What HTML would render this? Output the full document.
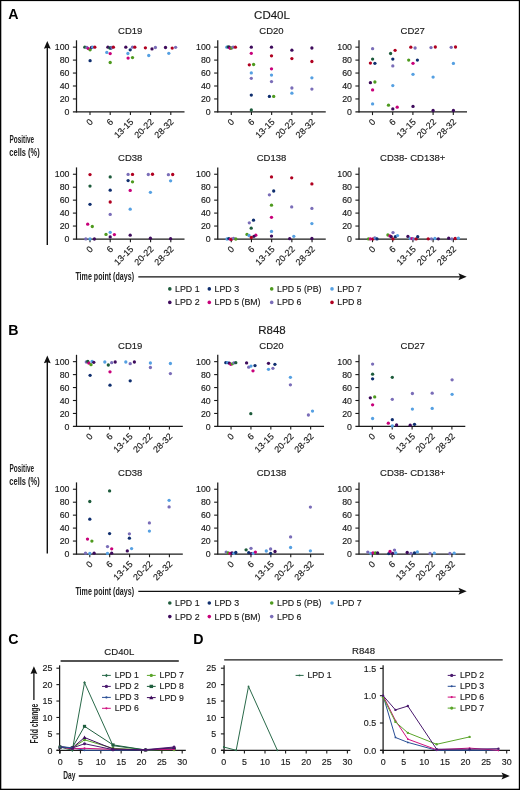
<!DOCTYPE html>
<html><head><meta charset="utf-8"><title>Figure</title>
<style>
html,body{margin:0;padding:0;background:#fff;}
body{width:520px;height:790px;overflow:hidden;}
svg{display:block;font-family:"Liberation Sans", sans-serif;will-change:transform;}
</style></head><body>
<svg width="520" height="790" viewBox="0 0 520 790">
<rect x="0" y="0" width="520" height="790" fill="#fff"/>
<rect x="0" y="0" width="520" height="1.1" fill="#000"/>
<rect x="0" y="0" width="1.3" height="790" fill="#000"/>
<rect x="518.8" y="0" width="1.2" height="790" fill="#000"/>
<rect x="0" y="788.7" width="520" height="1.3" fill="#000"/>
<text x="8.30" y="18.50" font-size="14.2" font-weight="bold" fill="#000">A</text>
<text x="272.00" y="19.20" font-size="11.5" text-anchor="middle" fill="#1a1a1a" stroke="#1a1a1a" stroke-width="0.15">CD40L</text>
<text x="130.20" y="34.20" font-size="9.5" text-anchor="middle" fill="#1a1a1a" stroke="#1a1a1a" stroke-width="0.15">CD19</text>
<line x1="76.50" y1="40.30" x2="76.50" y2="112.50" stroke="#1a1a1a" stroke-width="1.25"/>
<line x1="72.90" y1="111.90" x2="184.50" y2="111.90" stroke="#1a1a1a" stroke-width="1.25"/>
<line x1="72.90" y1="47.15" x2="76.50" y2="47.15" stroke="#1a1a1a" stroke-width="1.1"/>
<line x1="72.90" y1="60.10" x2="76.50" y2="60.10" stroke="#1a1a1a" stroke-width="1.1"/>
<line x1="72.90" y1="73.05" x2="76.50" y2="73.05" stroke="#1a1a1a" stroke-width="1.1"/>
<line x1="72.90" y1="86.00" x2="76.50" y2="86.00" stroke="#1a1a1a" stroke-width="1.1"/>
<line x1="72.90" y1="98.95" x2="76.50" y2="98.95" stroke="#1a1a1a" stroke-width="1.1"/>
<text x="69.50" y="50.25" font-size="8.8" text-anchor="end" fill="#1a1a1a" stroke="#1a1a1a" stroke-width="0.15">100</text>
<text x="69.50" y="63.20" font-size="8.8" text-anchor="end" fill="#1a1a1a" stroke="#1a1a1a" stroke-width="0.15">80</text>
<text x="69.50" y="76.15" font-size="8.8" text-anchor="end" fill="#1a1a1a" stroke="#1a1a1a" stroke-width="0.15">60</text>
<text x="69.50" y="89.10" font-size="8.8" text-anchor="end" fill="#1a1a1a" stroke="#1a1a1a" stroke-width="0.15">40</text>
<text x="69.50" y="102.05" font-size="8.8" text-anchor="end" fill="#1a1a1a" stroke="#1a1a1a" stroke-width="0.15">20</text>
<text x="69.50" y="115.00" font-size="8.8" text-anchor="end" fill="#1a1a1a" stroke="#1a1a1a" stroke-width="0.15">0</text>
<line x1="90.00" y1="111.90" x2="90.00" y2="115.10" stroke="#1a1a1a" stroke-width="1.1"/>
<text font-size="9" text-anchor="end" fill="#1a1a1a" stroke="#1a1a1a" stroke-width="0.15" transform="translate(93.60,122.50) rotate(-45)">0</text>
<line x1="110.20" y1="111.90" x2="110.20" y2="115.10" stroke="#1a1a1a" stroke-width="1.1"/>
<text font-size="9" text-anchor="end" fill="#1a1a1a" stroke="#1a1a1a" stroke-width="0.15" transform="translate(113.80,122.50) rotate(-45)">6</text>
<line x1="130.40" y1="111.90" x2="130.40" y2="115.10" stroke="#1a1a1a" stroke-width="1.1"/>
<text font-size="9" text-anchor="end" fill="#1a1a1a" stroke="#1a1a1a" stroke-width="0.15" transform="translate(134.00,122.50) rotate(-45)">13-15</text>
<line x1="150.60" y1="111.90" x2="150.60" y2="115.10" stroke="#1a1a1a" stroke-width="1.1"/>
<text font-size="9" text-anchor="end" fill="#1a1a1a" stroke="#1a1a1a" stroke-width="0.15" transform="translate(154.20,122.50) rotate(-45)">20-22</text>
<line x1="170.80" y1="111.90" x2="170.80" y2="115.10" stroke="#1a1a1a" stroke-width="1.1"/>
<text font-size="9" text-anchor="end" fill="#1a1a1a" stroke="#1a1a1a" stroke-width="0.15" transform="translate(174.40,122.50) rotate(-45)">28-32</text>
<text x="271.45" y="34.20" font-size="9.5" text-anchor="middle" fill="#1a1a1a" stroke="#1a1a1a" stroke-width="0.15">CD20</text>
<line x1="217.75" y1="40.30" x2="217.75" y2="112.50" stroke="#1a1a1a" stroke-width="1.25"/>
<line x1="214.15" y1="111.90" x2="325.75" y2="111.90" stroke="#1a1a1a" stroke-width="1.25"/>
<line x1="214.15" y1="47.15" x2="217.75" y2="47.15" stroke="#1a1a1a" stroke-width="1.1"/>
<line x1="214.15" y1="60.10" x2="217.75" y2="60.10" stroke="#1a1a1a" stroke-width="1.1"/>
<line x1="214.15" y1="73.05" x2="217.75" y2="73.05" stroke="#1a1a1a" stroke-width="1.1"/>
<line x1="214.15" y1="86.00" x2="217.75" y2="86.00" stroke="#1a1a1a" stroke-width="1.1"/>
<line x1="214.15" y1="98.95" x2="217.75" y2="98.95" stroke="#1a1a1a" stroke-width="1.1"/>
<text x="210.75" y="50.25" font-size="8.8" text-anchor="end" fill="#1a1a1a" stroke="#1a1a1a" stroke-width="0.15">100</text>
<text x="210.75" y="63.20" font-size="8.8" text-anchor="end" fill="#1a1a1a" stroke="#1a1a1a" stroke-width="0.15">80</text>
<text x="210.75" y="76.15" font-size="8.8" text-anchor="end" fill="#1a1a1a" stroke="#1a1a1a" stroke-width="0.15">60</text>
<text x="210.75" y="89.10" font-size="8.8" text-anchor="end" fill="#1a1a1a" stroke="#1a1a1a" stroke-width="0.15">40</text>
<text x="210.75" y="102.05" font-size="8.8" text-anchor="end" fill="#1a1a1a" stroke="#1a1a1a" stroke-width="0.15">20</text>
<text x="210.75" y="115.00" font-size="8.8" text-anchor="end" fill="#1a1a1a" stroke="#1a1a1a" stroke-width="0.15">0</text>
<line x1="231.25" y1="111.90" x2="231.25" y2="115.10" stroke="#1a1a1a" stroke-width="1.1"/>
<text font-size="9" text-anchor="end" fill="#1a1a1a" stroke="#1a1a1a" stroke-width="0.15" transform="translate(234.85,122.50) rotate(-45)">0</text>
<line x1="251.45" y1="111.90" x2="251.45" y2="115.10" stroke="#1a1a1a" stroke-width="1.1"/>
<text font-size="9" text-anchor="end" fill="#1a1a1a" stroke="#1a1a1a" stroke-width="0.15" transform="translate(255.05,122.50) rotate(-45)">6</text>
<line x1="271.65" y1="111.90" x2="271.65" y2="115.10" stroke="#1a1a1a" stroke-width="1.1"/>
<text font-size="9" text-anchor="end" fill="#1a1a1a" stroke="#1a1a1a" stroke-width="0.15" transform="translate(275.25,122.50) rotate(-45)">13-15</text>
<line x1="291.85" y1="111.90" x2="291.85" y2="115.10" stroke="#1a1a1a" stroke-width="1.1"/>
<text font-size="9" text-anchor="end" fill="#1a1a1a" stroke="#1a1a1a" stroke-width="0.15" transform="translate(295.45,122.50) rotate(-45)">20-22</text>
<line x1="312.05" y1="111.90" x2="312.05" y2="115.10" stroke="#1a1a1a" stroke-width="1.1"/>
<text font-size="9" text-anchor="end" fill="#1a1a1a" stroke="#1a1a1a" stroke-width="0.15" transform="translate(315.65,122.50) rotate(-45)">28-32</text>
<text x="412.70" y="34.20" font-size="9.5" text-anchor="middle" fill="#1a1a1a" stroke="#1a1a1a" stroke-width="0.15">CD27</text>
<line x1="359.00" y1="40.30" x2="359.00" y2="112.50" stroke="#1a1a1a" stroke-width="1.25"/>
<line x1="355.40" y1="111.90" x2="467.00" y2="111.90" stroke="#1a1a1a" stroke-width="1.25"/>
<line x1="355.40" y1="47.15" x2="359.00" y2="47.15" stroke="#1a1a1a" stroke-width="1.1"/>
<line x1="355.40" y1="60.10" x2="359.00" y2="60.10" stroke="#1a1a1a" stroke-width="1.1"/>
<line x1="355.40" y1="73.05" x2="359.00" y2="73.05" stroke="#1a1a1a" stroke-width="1.1"/>
<line x1="355.40" y1="86.00" x2="359.00" y2="86.00" stroke="#1a1a1a" stroke-width="1.1"/>
<line x1="355.40" y1="98.95" x2="359.00" y2="98.95" stroke="#1a1a1a" stroke-width="1.1"/>
<text x="352.00" y="50.25" font-size="8.8" text-anchor="end" fill="#1a1a1a" stroke="#1a1a1a" stroke-width="0.15">100</text>
<text x="352.00" y="63.20" font-size="8.8" text-anchor="end" fill="#1a1a1a" stroke="#1a1a1a" stroke-width="0.15">80</text>
<text x="352.00" y="76.15" font-size="8.8" text-anchor="end" fill="#1a1a1a" stroke="#1a1a1a" stroke-width="0.15">60</text>
<text x="352.00" y="89.10" font-size="8.8" text-anchor="end" fill="#1a1a1a" stroke="#1a1a1a" stroke-width="0.15">40</text>
<text x="352.00" y="102.05" font-size="8.8" text-anchor="end" fill="#1a1a1a" stroke="#1a1a1a" stroke-width="0.15">20</text>
<text x="352.00" y="115.00" font-size="8.8" text-anchor="end" fill="#1a1a1a" stroke="#1a1a1a" stroke-width="0.15">0</text>
<line x1="372.50" y1="111.90" x2="372.50" y2="115.10" stroke="#1a1a1a" stroke-width="1.1"/>
<text font-size="9" text-anchor="end" fill="#1a1a1a" stroke="#1a1a1a" stroke-width="0.15" transform="translate(376.10,122.50) rotate(-45)">0</text>
<line x1="392.70" y1="111.90" x2="392.70" y2="115.10" stroke="#1a1a1a" stroke-width="1.1"/>
<text font-size="9" text-anchor="end" fill="#1a1a1a" stroke="#1a1a1a" stroke-width="0.15" transform="translate(396.30,122.50) rotate(-45)">6</text>
<line x1="412.90" y1="111.90" x2="412.90" y2="115.10" stroke="#1a1a1a" stroke-width="1.1"/>
<text font-size="9" text-anchor="end" fill="#1a1a1a" stroke="#1a1a1a" stroke-width="0.15" transform="translate(416.50,122.50) rotate(-45)">13-15</text>
<line x1="433.10" y1="111.90" x2="433.10" y2="115.10" stroke="#1a1a1a" stroke-width="1.1"/>
<text font-size="9" text-anchor="end" fill="#1a1a1a" stroke="#1a1a1a" stroke-width="0.15" transform="translate(436.70,122.50) rotate(-45)">20-22</text>
<line x1="453.30" y1="111.90" x2="453.30" y2="115.10" stroke="#1a1a1a" stroke-width="1.1"/>
<text font-size="9" text-anchor="end" fill="#1a1a1a" stroke="#1a1a1a" stroke-width="0.15" transform="translate(456.90,122.50) rotate(-45)">28-32</text>
<text x="130.20" y="161.30" font-size="9.5" text-anchor="middle" fill="#1a1a1a" stroke="#1a1a1a" stroke-width="0.15">CD38</text>
<line x1="76.50" y1="167.40" x2="76.50" y2="239.60" stroke="#1a1a1a" stroke-width="1.25"/>
<line x1="72.90" y1="239.00" x2="184.50" y2="239.00" stroke="#1a1a1a" stroke-width="1.25"/>
<line x1="72.90" y1="174.25" x2="76.50" y2="174.25" stroke="#1a1a1a" stroke-width="1.1"/>
<line x1="72.90" y1="187.20" x2="76.50" y2="187.20" stroke="#1a1a1a" stroke-width="1.1"/>
<line x1="72.90" y1="200.15" x2="76.50" y2="200.15" stroke="#1a1a1a" stroke-width="1.1"/>
<line x1="72.90" y1="213.10" x2="76.50" y2="213.10" stroke="#1a1a1a" stroke-width="1.1"/>
<line x1="72.90" y1="226.05" x2="76.50" y2="226.05" stroke="#1a1a1a" stroke-width="1.1"/>
<text x="69.50" y="177.35" font-size="8.8" text-anchor="end" fill="#1a1a1a" stroke="#1a1a1a" stroke-width="0.15">100</text>
<text x="69.50" y="190.30" font-size="8.8" text-anchor="end" fill="#1a1a1a" stroke="#1a1a1a" stroke-width="0.15">80</text>
<text x="69.50" y="203.25" font-size="8.8" text-anchor="end" fill="#1a1a1a" stroke="#1a1a1a" stroke-width="0.15">60</text>
<text x="69.50" y="216.20" font-size="8.8" text-anchor="end" fill="#1a1a1a" stroke="#1a1a1a" stroke-width="0.15">40</text>
<text x="69.50" y="229.15" font-size="8.8" text-anchor="end" fill="#1a1a1a" stroke="#1a1a1a" stroke-width="0.15">20</text>
<text x="69.50" y="242.10" font-size="8.8" text-anchor="end" fill="#1a1a1a" stroke="#1a1a1a" stroke-width="0.15">0</text>
<line x1="90.00" y1="239.00" x2="90.00" y2="242.20" stroke="#1a1a1a" stroke-width="1.1"/>
<text font-size="9" text-anchor="end" fill="#1a1a1a" stroke="#1a1a1a" stroke-width="0.15" transform="translate(93.60,249.60) rotate(-45)">0</text>
<line x1="110.20" y1="239.00" x2="110.20" y2="242.20" stroke="#1a1a1a" stroke-width="1.1"/>
<text font-size="9" text-anchor="end" fill="#1a1a1a" stroke="#1a1a1a" stroke-width="0.15" transform="translate(113.80,249.60) rotate(-45)">6</text>
<line x1="130.40" y1="239.00" x2="130.40" y2="242.20" stroke="#1a1a1a" stroke-width="1.1"/>
<text font-size="9" text-anchor="end" fill="#1a1a1a" stroke="#1a1a1a" stroke-width="0.15" transform="translate(134.00,249.60) rotate(-45)">13-15</text>
<line x1="150.60" y1="239.00" x2="150.60" y2="242.20" stroke="#1a1a1a" stroke-width="1.1"/>
<text font-size="9" text-anchor="end" fill="#1a1a1a" stroke="#1a1a1a" stroke-width="0.15" transform="translate(154.20,249.60) rotate(-45)">20-22</text>
<line x1="170.80" y1="239.00" x2="170.80" y2="242.20" stroke="#1a1a1a" stroke-width="1.1"/>
<text font-size="9" text-anchor="end" fill="#1a1a1a" stroke="#1a1a1a" stroke-width="0.15" transform="translate(174.40,249.60) rotate(-45)">28-32</text>
<text x="271.45" y="161.30" font-size="9.5" text-anchor="middle" fill="#1a1a1a" stroke="#1a1a1a" stroke-width="0.15">CD138</text>
<line x1="217.75" y1="167.40" x2="217.75" y2="239.60" stroke="#1a1a1a" stroke-width="1.25"/>
<line x1="214.15" y1="239.00" x2="325.75" y2="239.00" stroke="#1a1a1a" stroke-width="1.25"/>
<line x1="214.15" y1="174.25" x2="217.75" y2="174.25" stroke="#1a1a1a" stroke-width="1.1"/>
<line x1="214.15" y1="187.20" x2="217.75" y2="187.20" stroke="#1a1a1a" stroke-width="1.1"/>
<line x1="214.15" y1="200.15" x2="217.75" y2="200.15" stroke="#1a1a1a" stroke-width="1.1"/>
<line x1="214.15" y1="213.10" x2="217.75" y2="213.10" stroke="#1a1a1a" stroke-width="1.1"/>
<line x1="214.15" y1="226.05" x2="217.75" y2="226.05" stroke="#1a1a1a" stroke-width="1.1"/>
<text x="210.75" y="177.35" font-size="8.8" text-anchor="end" fill="#1a1a1a" stroke="#1a1a1a" stroke-width="0.15">100</text>
<text x="210.75" y="190.30" font-size="8.8" text-anchor="end" fill="#1a1a1a" stroke="#1a1a1a" stroke-width="0.15">80</text>
<text x="210.75" y="203.25" font-size="8.8" text-anchor="end" fill="#1a1a1a" stroke="#1a1a1a" stroke-width="0.15">60</text>
<text x="210.75" y="216.20" font-size="8.8" text-anchor="end" fill="#1a1a1a" stroke="#1a1a1a" stroke-width="0.15">40</text>
<text x="210.75" y="229.15" font-size="8.8" text-anchor="end" fill="#1a1a1a" stroke="#1a1a1a" stroke-width="0.15">20</text>
<text x="210.75" y="242.10" font-size="8.8" text-anchor="end" fill="#1a1a1a" stroke="#1a1a1a" stroke-width="0.15">0</text>
<line x1="231.25" y1="239.00" x2="231.25" y2="242.20" stroke="#1a1a1a" stroke-width="1.1"/>
<text font-size="9" text-anchor="end" fill="#1a1a1a" stroke="#1a1a1a" stroke-width="0.15" transform="translate(234.85,249.60) rotate(-45)">0</text>
<line x1="251.45" y1="239.00" x2="251.45" y2="242.20" stroke="#1a1a1a" stroke-width="1.1"/>
<text font-size="9" text-anchor="end" fill="#1a1a1a" stroke="#1a1a1a" stroke-width="0.15" transform="translate(255.05,249.60) rotate(-45)">6</text>
<line x1="271.65" y1="239.00" x2="271.65" y2="242.20" stroke="#1a1a1a" stroke-width="1.1"/>
<text font-size="9" text-anchor="end" fill="#1a1a1a" stroke="#1a1a1a" stroke-width="0.15" transform="translate(275.25,249.60) rotate(-45)">13-15</text>
<line x1="291.85" y1="239.00" x2="291.85" y2="242.20" stroke="#1a1a1a" stroke-width="1.1"/>
<text font-size="9" text-anchor="end" fill="#1a1a1a" stroke="#1a1a1a" stroke-width="0.15" transform="translate(295.45,249.60) rotate(-45)">20-22</text>
<line x1="312.05" y1="239.00" x2="312.05" y2="242.20" stroke="#1a1a1a" stroke-width="1.1"/>
<text font-size="9" text-anchor="end" fill="#1a1a1a" stroke="#1a1a1a" stroke-width="0.15" transform="translate(315.65,249.60) rotate(-45)">28-32</text>
<text x="412.70" y="161.30" font-size="9.5" text-anchor="middle" fill="#1a1a1a" stroke="#1a1a1a" stroke-width="0.15">CD38- CD138+</text>
<line x1="359.00" y1="167.40" x2="359.00" y2="239.60" stroke="#1a1a1a" stroke-width="1.25"/>
<line x1="355.40" y1="239.00" x2="467.00" y2="239.00" stroke="#1a1a1a" stroke-width="1.25"/>
<line x1="355.40" y1="174.25" x2="359.00" y2="174.25" stroke="#1a1a1a" stroke-width="1.1"/>
<line x1="355.40" y1="187.20" x2="359.00" y2="187.20" stroke="#1a1a1a" stroke-width="1.1"/>
<line x1="355.40" y1="200.15" x2="359.00" y2="200.15" stroke="#1a1a1a" stroke-width="1.1"/>
<line x1="355.40" y1="213.10" x2="359.00" y2="213.10" stroke="#1a1a1a" stroke-width="1.1"/>
<line x1="355.40" y1="226.05" x2="359.00" y2="226.05" stroke="#1a1a1a" stroke-width="1.1"/>
<text x="352.00" y="177.35" font-size="8.8" text-anchor="end" fill="#1a1a1a" stroke="#1a1a1a" stroke-width="0.15">100</text>
<text x="352.00" y="190.30" font-size="8.8" text-anchor="end" fill="#1a1a1a" stroke="#1a1a1a" stroke-width="0.15">80</text>
<text x="352.00" y="203.25" font-size="8.8" text-anchor="end" fill="#1a1a1a" stroke="#1a1a1a" stroke-width="0.15">60</text>
<text x="352.00" y="216.20" font-size="8.8" text-anchor="end" fill="#1a1a1a" stroke="#1a1a1a" stroke-width="0.15">40</text>
<text x="352.00" y="229.15" font-size="8.8" text-anchor="end" fill="#1a1a1a" stroke="#1a1a1a" stroke-width="0.15">20</text>
<text x="352.00" y="242.10" font-size="8.8" text-anchor="end" fill="#1a1a1a" stroke="#1a1a1a" stroke-width="0.15">0</text>
<line x1="372.50" y1="239.00" x2="372.50" y2="242.20" stroke="#1a1a1a" stroke-width="1.1"/>
<text font-size="9" text-anchor="end" fill="#1a1a1a" stroke="#1a1a1a" stroke-width="0.15" transform="translate(376.10,249.60) rotate(-45)">0</text>
<line x1="392.70" y1="239.00" x2="392.70" y2="242.20" stroke="#1a1a1a" stroke-width="1.1"/>
<text font-size="9" text-anchor="end" fill="#1a1a1a" stroke="#1a1a1a" stroke-width="0.15" transform="translate(396.30,249.60) rotate(-45)">6</text>
<line x1="412.90" y1="239.00" x2="412.90" y2="242.20" stroke="#1a1a1a" stroke-width="1.1"/>
<text font-size="9" text-anchor="end" fill="#1a1a1a" stroke="#1a1a1a" stroke-width="0.15" transform="translate(416.50,249.60) rotate(-45)">13-15</text>
<line x1="433.10" y1="239.00" x2="433.10" y2="242.20" stroke="#1a1a1a" stroke-width="1.1"/>
<text font-size="9" text-anchor="end" fill="#1a1a1a" stroke="#1a1a1a" stroke-width="0.15" transform="translate(436.70,249.60) rotate(-45)">20-22</text>
<line x1="453.30" y1="239.00" x2="453.30" y2="242.20" stroke="#1a1a1a" stroke-width="1.1"/>
<text font-size="9" text-anchor="end" fill="#1a1a1a" stroke="#1a1a1a" stroke-width="0.15" transform="translate(456.90,249.60) rotate(-45)">28-32</text>
<line x1="47.30" y1="46.90" x2="47.30" y2="244.90" stroke="#111" stroke-width="1.4"/>
<polygon points="47.30,40.90 43.90,48.70 47.30,47.70 50.70,48.70" fill="#111"/>
<text x="9.50" y="143.30" font-size="10.2" font-weight="bold" textLength="24.6" lengthAdjust="spacingAndGlyphs" fill="#222">Positive</text>
<text x="9.30" y="155.60" font-size="10.2" font-weight="bold" textLength="30.4" lengthAdjust="spacingAndGlyphs" fill="#222">cells (%)</text>
<text x="75.40" y="280.00" font-size="10.2" font-weight="bold" textLength="58.6" lengthAdjust="spacingAndGlyphs" fill="#222">Time point (days)</text>
<line x1="138.30" y1="276.80" x2="460.70" y2="276.80" stroke="#111" stroke-width="1.3"/>
<polygon points="466.70,276.80 458.40,273.30 460.10,276.80 458.40,280.30" fill="#111"/>
<text x="8.30" y="334.50" font-size="14.2" font-weight="bold" fill="#000">B</text>
<text x="272.00" y="333.70" font-size="11.5" text-anchor="middle" fill="#1a1a1a" stroke="#1a1a1a" stroke-width="0.15">R848</text>
<text x="130.20" y="348.70" font-size="9.5" text-anchor="middle" fill="#1a1a1a" stroke="#1a1a1a" stroke-width="0.15">CD19</text>
<line x1="76.50" y1="354.80" x2="76.50" y2="427.00" stroke="#1a1a1a" stroke-width="1.25"/>
<line x1="72.90" y1="426.40" x2="182.80" y2="426.40" stroke="#1a1a1a" stroke-width="1.25"/>
<line x1="72.90" y1="361.65" x2="76.50" y2="361.65" stroke="#1a1a1a" stroke-width="1.1"/>
<line x1="72.90" y1="374.60" x2="76.50" y2="374.60" stroke="#1a1a1a" stroke-width="1.1"/>
<line x1="72.90" y1="387.55" x2="76.50" y2="387.55" stroke="#1a1a1a" stroke-width="1.1"/>
<line x1="72.90" y1="400.50" x2="76.50" y2="400.50" stroke="#1a1a1a" stroke-width="1.1"/>
<line x1="72.90" y1="413.45" x2="76.50" y2="413.45" stroke="#1a1a1a" stroke-width="1.1"/>
<text x="69.50" y="364.75" font-size="8.8" text-anchor="end" fill="#1a1a1a" stroke="#1a1a1a" stroke-width="0.15">100</text>
<text x="69.50" y="377.70" font-size="8.8" text-anchor="end" fill="#1a1a1a" stroke="#1a1a1a" stroke-width="0.15">80</text>
<text x="69.50" y="390.65" font-size="8.8" text-anchor="end" fill="#1a1a1a" stroke="#1a1a1a" stroke-width="0.15">60</text>
<text x="69.50" y="403.60" font-size="8.8" text-anchor="end" fill="#1a1a1a" stroke="#1a1a1a" stroke-width="0.15">40</text>
<text x="69.50" y="416.55" font-size="8.8" text-anchor="end" fill="#1a1a1a" stroke="#1a1a1a" stroke-width="0.15">20</text>
<text x="69.50" y="429.50" font-size="8.8" text-anchor="end" fill="#1a1a1a" stroke="#1a1a1a" stroke-width="0.15">0</text>
<line x1="89.80" y1="426.40" x2="89.80" y2="429.60" stroke="#1a1a1a" stroke-width="1.1"/>
<text font-size="9" text-anchor="end" fill="#1a1a1a" stroke="#1a1a1a" stroke-width="0.15" transform="translate(93.40,437.00) rotate(-45)">0</text>
<line x1="109.70" y1="426.40" x2="109.70" y2="429.60" stroke="#1a1a1a" stroke-width="1.1"/>
<text font-size="9" text-anchor="end" fill="#1a1a1a" stroke="#1a1a1a" stroke-width="0.15" transform="translate(113.30,437.00) rotate(-45)">6</text>
<line x1="129.60" y1="426.40" x2="129.60" y2="429.60" stroke="#1a1a1a" stroke-width="1.1"/>
<text font-size="9" text-anchor="end" fill="#1a1a1a" stroke="#1a1a1a" stroke-width="0.15" transform="translate(133.20,437.00) rotate(-45)">13-15</text>
<line x1="149.50" y1="426.40" x2="149.50" y2="429.60" stroke="#1a1a1a" stroke-width="1.1"/>
<text font-size="9" text-anchor="end" fill="#1a1a1a" stroke="#1a1a1a" stroke-width="0.15" transform="translate(153.10,437.00) rotate(-45)">20-22</text>
<line x1="169.40" y1="426.40" x2="169.40" y2="429.60" stroke="#1a1a1a" stroke-width="1.1"/>
<text font-size="9" text-anchor="end" fill="#1a1a1a" stroke="#1a1a1a" stroke-width="0.15" transform="translate(173.00,437.00) rotate(-45)">28-32</text>
<text x="271.45" y="348.70" font-size="9.5" text-anchor="middle" fill="#1a1a1a" stroke="#1a1a1a" stroke-width="0.15">CD20</text>
<line x1="217.75" y1="354.80" x2="217.75" y2="427.00" stroke="#1a1a1a" stroke-width="1.25"/>
<line x1="214.15" y1="426.40" x2="324.05" y2="426.40" stroke="#1a1a1a" stroke-width="1.25"/>
<line x1="214.15" y1="361.65" x2="217.75" y2="361.65" stroke="#1a1a1a" stroke-width="1.1"/>
<line x1="214.15" y1="374.60" x2="217.75" y2="374.60" stroke="#1a1a1a" stroke-width="1.1"/>
<line x1="214.15" y1="387.55" x2="217.75" y2="387.55" stroke="#1a1a1a" stroke-width="1.1"/>
<line x1="214.15" y1="400.50" x2="217.75" y2="400.50" stroke="#1a1a1a" stroke-width="1.1"/>
<line x1="214.15" y1="413.45" x2="217.75" y2="413.45" stroke="#1a1a1a" stroke-width="1.1"/>
<text x="210.75" y="364.75" font-size="8.8" text-anchor="end" fill="#1a1a1a" stroke="#1a1a1a" stroke-width="0.15">100</text>
<text x="210.75" y="377.70" font-size="8.8" text-anchor="end" fill="#1a1a1a" stroke="#1a1a1a" stroke-width="0.15">80</text>
<text x="210.75" y="390.65" font-size="8.8" text-anchor="end" fill="#1a1a1a" stroke="#1a1a1a" stroke-width="0.15">60</text>
<text x="210.75" y="403.60" font-size="8.8" text-anchor="end" fill="#1a1a1a" stroke="#1a1a1a" stroke-width="0.15">40</text>
<text x="210.75" y="416.55" font-size="8.8" text-anchor="end" fill="#1a1a1a" stroke="#1a1a1a" stroke-width="0.15">20</text>
<text x="210.75" y="429.50" font-size="8.8" text-anchor="end" fill="#1a1a1a" stroke="#1a1a1a" stroke-width="0.15">0</text>
<line x1="231.05" y1="426.40" x2="231.05" y2="429.60" stroke="#1a1a1a" stroke-width="1.1"/>
<text font-size="9" text-anchor="end" fill="#1a1a1a" stroke="#1a1a1a" stroke-width="0.15" transform="translate(234.65,437.00) rotate(-45)">0</text>
<line x1="250.95" y1="426.40" x2="250.95" y2="429.60" stroke="#1a1a1a" stroke-width="1.1"/>
<text font-size="9" text-anchor="end" fill="#1a1a1a" stroke="#1a1a1a" stroke-width="0.15" transform="translate(254.55,437.00) rotate(-45)">6</text>
<line x1="270.85" y1="426.40" x2="270.85" y2="429.60" stroke="#1a1a1a" stroke-width="1.1"/>
<text font-size="9" text-anchor="end" fill="#1a1a1a" stroke="#1a1a1a" stroke-width="0.15" transform="translate(274.45,437.00) rotate(-45)">13-15</text>
<line x1="290.75" y1="426.40" x2="290.75" y2="429.60" stroke="#1a1a1a" stroke-width="1.1"/>
<text font-size="9" text-anchor="end" fill="#1a1a1a" stroke="#1a1a1a" stroke-width="0.15" transform="translate(294.35,437.00) rotate(-45)">20-22</text>
<line x1="310.65" y1="426.40" x2="310.65" y2="429.60" stroke="#1a1a1a" stroke-width="1.1"/>
<text font-size="9" text-anchor="end" fill="#1a1a1a" stroke="#1a1a1a" stroke-width="0.15" transform="translate(314.25,437.00) rotate(-45)">28-32</text>
<text x="412.70" y="348.70" font-size="9.5" text-anchor="middle" fill="#1a1a1a" stroke="#1a1a1a" stroke-width="0.15">CD27</text>
<line x1="359.00" y1="354.80" x2="359.00" y2="427.00" stroke="#1a1a1a" stroke-width="1.25"/>
<line x1="355.40" y1="426.40" x2="465.30" y2="426.40" stroke="#1a1a1a" stroke-width="1.25"/>
<line x1="355.40" y1="361.65" x2="359.00" y2="361.65" stroke="#1a1a1a" stroke-width="1.1"/>
<line x1="355.40" y1="374.60" x2="359.00" y2="374.60" stroke="#1a1a1a" stroke-width="1.1"/>
<line x1="355.40" y1="387.55" x2="359.00" y2="387.55" stroke="#1a1a1a" stroke-width="1.1"/>
<line x1="355.40" y1="400.50" x2="359.00" y2="400.50" stroke="#1a1a1a" stroke-width="1.1"/>
<line x1="355.40" y1="413.45" x2="359.00" y2="413.45" stroke="#1a1a1a" stroke-width="1.1"/>
<text x="352.00" y="364.75" font-size="8.8" text-anchor="end" fill="#1a1a1a" stroke="#1a1a1a" stroke-width="0.15">100</text>
<text x="352.00" y="377.70" font-size="8.8" text-anchor="end" fill="#1a1a1a" stroke="#1a1a1a" stroke-width="0.15">80</text>
<text x="352.00" y="390.65" font-size="8.8" text-anchor="end" fill="#1a1a1a" stroke="#1a1a1a" stroke-width="0.15">60</text>
<text x="352.00" y="403.60" font-size="8.8" text-anchor="end" fill="#1a1a1a" stroke="#1a1a1a" stroke-width="0.15">40</text>
<text x="352.00" y="416.55" font-size="8.8" text-anchor="end" fill="#1a1a1a" stroke="#1a1a1a" stroke-width="0.15">20</text>
<text x="352.00" y="429.50" font-size="8.8" text-anchor="end" fill="#1a1a1a" stroke="#1a1a1a" stroke-width="0.15">0</text>
<line x1="372.30" y1="426.40" x2="372.30" y2="429.60" stroke="#1a1a1a" stroke-width="1.1"/>
<text font-size="9" text-anchor="end" fill="#1a1a1a" stroke="#1a1a1a" stroke-width="0.15" transform="translate(375.90,437.00) rotate(-45)">0</text>
<line x1="392.20" y1="426.40" x2="392.20" y2="429.60" stroke="#1a1a1a" stroke-width="1.1"/>
<text font-size="9" text-anchor="end" fill="#1a1a1a" stroke="#1a1a1a" stroke-width="0.15" transform="translate(395.80,437.00) rotate(-45)">6</text>
<line x1="412.10" y1="426.40" x2="412.10" y2="429.60" stroke="#1a1a1a" stroke-width="1.1"/>
<text font-size="9" text-anchor="end" fill="#1a1a1a" stroke="#1a1a1a" stroke-width="0.15" transform="translate(415.70,437.00) rotate(-45)">13-15</text>
<line x1="432.00" y1="426.40" x2="432.00" y2="429.60" stroke="#1a1a1a" stroke-width="1.1"/>
<text font-size="9" text-anchor="end" fill="#1a1a1a" stroke="#1a1a1a" stroke-width="0.15" transform="translate(435.60,437.00) rotate(-45)">20-22</text>
<line x1="451.90" y1="426.40" x2="451.90" y2="429.60" stroke="#1a1a1a" stroke-width="1.1"/>
<text font-size="9" text-anchor="end" fill="#1a1a1a" stroke="#1a1a1a" stroke-width="0.15" transform="translate(455.50,437.00) rotate(-45)">28-32</text>
<text x="130.20" y="476.30" font-size="9.5" text-anchor="middle" fill="#1a1a1a" stroke="#1a1a1a" stroke-width="0.15">CD38</text>
<line x1="76.50" y1="482.40" x2="76.50" y2="554.60" stroke="#1a1a1a" stroke-width="1.25"/>
<line x1="72.90" y1="554.00" x2="182.80" y2="554.00" stroke="#1a1a1a" stroke-width="1.25"/>
<line x1="72.90" y1="489.25" x2="76.50" y2="489.25" stroke="#1a1a1a" stroke-width="1.1"/>
<line x1="72.90" y1="502.20" x2="76.50" y2="502.20" stroke="#1a1a1a" stroke-width="1.1"/>
<line x1="72.90" y1="515.15" x2="76.50" y2="515.15" stroke="#1a1a1a" stroke-width="1.1"/>
<line x1="72.90" y1="528.10" x2="76.50" y2="528.10" stroke="#1a1a1a" stroke-width="1.1"/>
<line x1="72.90" y1="541.05" x2="76.50" y2="541.05" stroke="#1a1a1a" stroke-width="1.1"/>
<text x="69.50" y="492.35" font-size="8.8" text-anchor="end" fill="#1a1a1a" stroke="#1a1a1a" stroke-width="0.15">100</text>
<text x="69.50" y="505.30" font-size="8.8" text-anchor="end" fill="#1a1a1a" stroke="#1a1a1a" stroke-width="0.15">80</text>
<text x="69.50" y="518.25" font-size="8.8" text-anchor="end" fill="#1a1a1a" stroke="#1a1a1a" stroke-width="0.15">60</text>
<text x="69.50" y="531.20" font-size="8.8" text-anchor="end" fill="#1a1a1a" stroke="#1a1a1a" stroke-width="0.15">40</text>
<text x="69.50" y="544.15" font-size="8.8" text-anchor="end" fill="#1a1a1a" stroke="#1a1a1a" stroke-width="0.15">20</text>
<text x="69.50" y="557.10" font-size="8.8" text-anchor="end" fill="#1a1a1a" stroke="#1a1a1a" stroke-width="0.15">0</text>
<line x1="89.80" y1="554.00" x2="89.80" y2="557.20" stroke="#1a1a1a" stroke-width="1.1"/>
<text font-size="9" text-anchor="end" fill="#1a1a1a" stroke="#1a1a1a" stroke-width="0.15" transform="translate(93.40,564.60) rotate(-45)">0</text>
<line x1="109.70" y1="554.00" x2="109.70" y2="557.20" stroke="#1a1a1a" stroke-width="1.1"/>
<text font-size="9" text-anchor="end" fill="#1a1a1a" stroke="#1a1a1a" stroke-width="0.15" transform="translate(113.30,564.60) rotate(-45)">6</text>
<line x1="129.60" y1="554.00" x2="129.60" y2="557.20" stroke="#1a1a1a" stroke-width="1.1"/>
<text font-size="9" text-anchor="end" fill="#1a1a1a" stroke="#1a1a1a" stroke-width="0.15" transform="translate(133.20,564.60) rotate(-45)">13-15</text>
<line x1="149.50" y1="554.00" x2="149.50" y2="557.20" stroke="#1a1a1a" stroke-width="1.1"/>
<text font-size="9" text-anchor="end" fill="#1a1a1a" stroke="#1a1a1a" stroke-width="0.15" transform="translate(153.10,564.60) rotate(-45)">20-22</text>
<line x1="169.40" y1="554.00" x2="169.40" y2="557.20" stroke="#1a1a1a" stroke-width="1.1"/>
<text font-size="9" text-anchor="end" fill="#1a1a1a" stroke="#1a1a1a" stroke-width="0.15" transform="translate(173.00,564.60) rotate(-45)">28-32</text>
<text x="271.45" y="476.30" font-size="9.5" text-anchor="middle" fill="#1a1a1a" stroke="#1a1a1a" stroke-width="0.15">CD138</text>
<line x1="217.75" y1="482.40" x2="217.75" y2="554.60" stroke="#1a1a1a" stroke-width="1.25"/>
<line x1="214.15" y1="554.00" x2="324.05" y2="554.00" stroke="#1a1a1a" stroke-width="1.25"/>
<line x1="214.15" y1="489.25" x2="217.75" y2="489.25" stroke="#1a1a1a" stroke-width="1.1"/>
<line x1="214.15" y1="502.20" x2="217.75" y2="502.20" stroke="#1a1a1a" stroke-width="1.1"/>
<line x1="214.15" y1="515.15" x2="217.75" y2="515.15" stroke="#1a1a1a" stroke-width="1.1"/>
<line x1="214.15" y1="528.10" x2="217.75" y2="528.10" stroke="#1a1a1a" stroke-width="1.1"/>
<line x1="214.15" y1="541.05" x2="217.75" y2="541.05" stroke="#1a1a1a" stroke-width="1.1"/>
<text x="210.75" y="492.35" font-size="8.8" text-anchor="end" fill="#1a1a1a" stroke="#1a1a1a" stroke-width="0.15">100</text>
<text x="210.75" y="505.30" font-size="8.8" text-anchor="end" fill="#1a1a1a" stroke="#1a1a1a" stroke-width="0.15">80</text>
<text x="210.75" y="518.25" font-size="8.8" text-anchor="end" fill="#1a1a1a" stroke="#1a1a1a" stroke-width="0.15">60</text>
<text x="210.75" y="531.20" font-size="8.8" text-anchor="end" fill="#1a1a1a" stroke="#1a1a1a" stroke-width="0.15">40</text>
<text x="210.75" y="544.15" font-size="8.8" text-anchor="end" fill="#1a1a1a" stroke="#1a1a1a" stroke-width="0.15">20</text>
<text x="210.75" y="557.10" font-size="8.8" text-anchor="end" fill="#1a1a1a" stroke="#1a1a1a" stroke-width="0.15">0</text>
<line x1="231.05" y1="554.00" x2="231.05" y2="557.20" stroke="#1a1a1a" stroke-width="1.1"/>
<text font-size="9" text-anchor="end" fill="#1a1a1a" stroke="#1a1a1a" stroke-width="0.15" transform="translate(234.65,564.60) rotate(-45)">0</text>
<line x1="250.95" y1="554.00" x2="250.95" y2="557.20" stroke="#1a1a1a" stroke-width="1.1"/>
<text font-size="9" text-anchor="end" fill="#1a1a1a" stroke="#1a1a1a" stroke-width="0.15" transform="translate(254.55,564.60) rotate(-45)">6</text>
<line x1="270.85" y1="554.00" x2="270.85" y2="557.20" stroke="#1a1a1a" stroke-width="1.1"/>
<text font-size="9" text-anchor="end" fill="#1a1a1a" stroke="#1a1a1a" stroke-width="0.15" transform="translate(274.45,564.60) rotate(-45)">13-15</text>
<line x1="290.75" y1="554.00" x2="290.75" y2="557.20" stroke="#1a1a1a" stroke-width="1.1"/>
<text font-size="9" text-anchor="end" fill="#1a1a1a" stroke="#1a1a1a" stroke-width="0.15" transform="translate(294.35,564.60) rotate(-45)">20-22</text>
<line x1="310.65" y1="554.00" x2="310.65" y2="557.20" stroke="#1a1a1a" stroke-width="1.1"/>
<text font-size="9" text-anchor="end" fill="#1a1a1a" stroke="#1a1a1a" stroke-width="0.15" transform="translate(314.25,564.60) rotate(-45)">28-32</text>
<text x="412.70" y="476.30" font-size="9.5" text-anchor="middle" fill="#1a1a1a" stroke="#1a1a1a" stroke-width="0.15">CD38- CD138+</text>
<line x1="359.00" y1="482.40" x2="359.00" y2="554.60" stroke="#1a1a1a" stroke-width="1.25"/>
<line x1="355.40" y1="554.00" x2="465.30" y2="554.00" stroke="#1a1a1a" stroke-width="1.25"/>
<line x1="355.40" y1="489.25" x2="359.00" y2="489.25" stroke="#1a1a1a" stroke-width="1.1"/>
<line x1="355.40" y1="502.20" x2="359.00" y2="502.20" stroke="#1a1a1a" stroke-width="1.1"/>
<line x1="355.40" y1="515.15" x2="359.00" y2="515.15" stroke="#1a1a1a" stroke-width="1.1"/>
<line x1="355.40" y1="528.10" x2="359.00" y2="528.10" stroke="#1a1a1a" stroke-width="1.1"/>
<line x1="355.40" y1="541.05" x2="359.00" y2="541.05" stroke="#1a1a1a" stroke-width="1.1"/>
<text x="352.00" y="492.35" font-size="8.8" text-anchor="end" fill="#1a1a1a" stroke="#1a1a1a" stroke-width="0.15">100</text>
<text x="352.00" y="505.30" font-size="8.8" text-anchor="end" fill="#1a1a1a" stroke="#1a1a1a" stroke-width="0.15">80</text>
<text x="352.00" y="518.25" font-size="8.8" text-anchor="end" fill="#1a1a1a" stroke="#1a1a1a" stroke-width="0.15">60</text>
<text x="352.00" y="531.20" font-size="8.8" text-anchor="end" fill="#1a1a1a" stroke="#1a1a1a" stroke-width="0.15">40</text>
<text x="352.00" y="544.15" font-size="8.8" text-anchor="end" fill="#1a1a1a" stroke="#1a1a1a" stroke-width="0.15">20</text>
<text x="352.00" y="557.10" font-size="8.8" text-anchor="end" fill="#1a1a1a" stroke="#1a1a1a" stroke-width="0.15">0</text>
<line x1="372.30" y1="554.00" x2="372.30" y2="557.20" stroke="#1a1a1a" stroke-width="1.1"/>
<text font-size="9" text-anchor="end" fill="#1a1a1a" stroke="#1a1a1a" stroke-width="0.15" transform="translate(375.90,564.60) rotate(-45)">0</text>
<line x1="392.20" y1="554.00" x2="392.20" y2="557.20" stroke="#1a1a1a" stroke-width="1.1"/>
<text font-size="9" text-anchor="end" fill="#1a1a1a" stroke="#1a1a1a" stroke-width="0.15" transform="translate(395.80,564.60) rotate(-45)">6</text>
<line x1="412.10" y1="554.00" x2="412.10" y2="557.20" stroke="#1a1a1a" stroke-width="1.1"/>
<text font-size="9" text-anchor="end" fill="#1a1a1a" stroke="#1a1a1a" stroke-width="0.15" transform="translate(415.70,564.60) rotate(-45)">13-15</text>
<line x1="432.00" y1="554.00" x2="432.00" y2="557.20" stroke="#1a1a1a" stroke-width="1.1"/>
<text font-size="9" text-anchor="end" fill="#1a1a1a" stroke="#1a1a1a" stroke-width="0.15" transform="translate(435.60,564.60) rotate(-45)">20-22</text>
<line x1="451.90" y1="554.00" x2="451.90" y2="557.20" stroke="#1a1a1a" stroke-width="1.1"/>
<text font-size="9" text-anchor="end" fill="#1a1a1a" stroke="#1a1a1a" stroke-width="0.15" transform="translate(455.50,564.60) rotate(-45)">28-32</text>
<line x1="47.30" y1="361.40" x2="47.30" y2="553.60" stroke="#111" stroke-width="1.4"/>
<polygon points="47.30,355.40 43.90,363.20 47.30,362.20 50.70,363.20" fill="#111"/>
<text x="9.50" y="472.30" font-size="10.2" font-weight="bold" textLength="24.6" lengthAdjust="spacingAndGlyphs" fill="#222">Positive</text>
<text x="9.30" y="484.60" font-size="10.2" font-weight="bold" textLength="30.4" lengthAdjust="spacingAndGlyphs" fill="#222">cells (%)</text>
<text x="75.40" y="594.50" font-size="10.2" font-weight="bold" textLength="58.6" lengthAdjust="spacingAndGlyphs" fill="#222">Time point (days)</text>
<line x1="138.30" y1="591.30" x2="460.70" y2="591.30" stroke="#111" stroke-width="1.3"/>
<polygon points="466.70,591.30 458.40,587.80 460.10,591.30 458.40,594.80" fill="#111"/>
<circle cx="84.80" cy="47.20" r="1.65" fill="#1d5b3b"/>
<circle cx="86.90" cy="47.50" r="1.65" fill="#7a6db8"/>
<circle cx="88.30" cy="48.60" r="1.65" fill="#c8007a"/>
<circle cx="90.10" cy="49.80" r="1.65" fill="#4e9a1e"/>
<circle cx="91.50" cy="47.50" r="1.65" fill="#3e0b5c"/>
<circle cx="92.70" cy="47.20" r="1.65" fill="#55a0e2"/>
<circle cx="94.80" cy="47.20" r="1.65" fill="#b00020"/>
<circle cx="90.10" cy="60.70" r="1.65" fill="#0f2e6e"/>
<circle cx="107.90" cy="47.20" r="1.65" fill="#3e0b5c"/>
<circle cx="109.80" cy="48.00" r="1.65" fill="#1d5b3b"/>
<circle cx="111.00" cy="48.00" r="1.65" fill="#0f2e6e"/>
<circle cx="112.00" cy="47.50" r="1.65" fill="#7a6db8"/>
<circle cx="113.40" cy="47.20" r="1.65" fill="#b00020"/>
<circle cx="106.80" cy="52.40" r="1.65" fill="#55a0e2"/>
<circle cx="110.20" cy="53.60" r="1.65" fill="#c8007a"/>
<circle cx="110.20" cy="62.50" r="1.65" fill="#4e9a1e"/>
<circle cx="125.80" cy="47.20" r="1.65" fill="#3e0b5c"/>
<circle cx="132.50" cy="47.20" r="1.65" fill="#7a6db8"/>
<circle cx="134.80" cy="47.20" r="1.65" fill="#b00020"/>
<circle cx="130.20" cy="49.80" r="1.65" fill="#0f2e6e"/>
<circle cx="127.90" cy="53.50" r="1.65" fill="#55a0e2"/>
<circle cx="128.10" cy="58.10" r="1.65" fill="#c8007a"/>
<circle cx="132.50" cy="57.60" r="1.65" fill="#4e9a1e"/>
<circle cx="145.40" cy="47.80" r="1.65" fill="#b00020"/>
<circle cx="152.00" cy="48.90" r="1.65" fill="#3e0b5c"/>
<circle cx="155.40" cy="47.50" r="1.65" fill="#7a6db8"/>
<circle cx="148.75" cy="55.50" r="1.65" fill="#55a0e2"/>
<circle cx="165.50" cy="47.50" r="1.65" fill="#3e0b5c"/>
<circle cx="172.20" cy="48.10" r="1.65" fill="#b00020"/>
<circle cx="175.60" cy="47.30" r="1.65" fill="#7a6db8"/>
<circle cx="168.80" cy="53.30" r="1.65" fill="#55a0e2"/>
<circle cx="226.80" cy="47.20" r="1.65" fill="#55a0e2"/>
<circle cx="228.20" cy="46.90" r="1.65" fill="#1d5b3b"/>
<circle cx="229.30" cy="47.20" r="1.65" fill="#3e0b5c"/>
<circle cx="230.20" cy="48.30" r="1.65" fill="#c8007a"/>
<circle cx="231.60" cy="48.00" r="1.65" fill="#4e9a1e"/>
<circle cx="233.10" cy="47.20" r="1.65" fill="#7a6db8"/>
<circle cx="235.40" cy="47.20" r="1.65" fill="#b00020"/>
<circle cx="251.30" cy="47.20" r="1.65" fill="#3e0b5c"/>
<circle cx="251.30" cy="53.30" r="1.65" fill="#c8007a"/>
<circle cx="249.30" cy="64.80" r="1.65" fill="#b00020"/>
<circle cx="253.60" cy="64.50" r="1.65" fill="#4e9a1e"/>
<circle cx="251.30" cy="72.90" r="1.65" fill="#55a0e2"/>
<circle cx="251.30" cy="78.30" r="1.65" fill="#7a6db8"/>
<circle cx="251.30" cy="95.10" r="1.65" fill="#0f2e6e"/>
<circle cx="251.30" cy="110.00" r="1.65" fill="#1d5b3b"/>
<circle cx="271.50" cy="47.20" r="1.65" fill="#3e0b5c"/>
<circle cx="271.50" cy="55.80" r="1.65" fill="#b00020"/>
<circle cx="271.50" cy="68.80" r="1.65" fill="#c8007a"/>
<circle cx="271.50" cy="75.10" r="1.65" fill="#55a0e2"/>
<circle cx="271.50" cy="81.60" r="1.65" fill="#7a6db8"/>
<circle cx="269.40" cy="96.40" r="1.65" fill="#0f2e6e"/>
<circle cx="273.70" cy="96.40" r="1.65" fill="#4e9a1e"/>
<circle cx="291.90" cy="50.20" r="1.65" fill="#3e0b5c"/>
<circle cx="291.90" cy="58.60" r="1.65" fill="#b00020"/>
<circle cx="291.90" cy="88.00" r="1.65" fill="#7a6db8"/>
<circle cx="291.90" cy="93.20" r="1.65" fill="#55a0e2"/>
<circle cx="311.90" cy="48.00" r="1.65" fill="#3e0b5c"/>
<circle cx="311.90" cy="61.50" r="1.65" fill="#b00020"/>
<circle cx="311.90" cy="77.80" r="1.65" fill="#55a0e2"/>
<circle cx="311.90" cy="89.10" r="1.65" fill="#7a6db8"/>
<circle cx="372.60" cy="48.70" r="1.65" fill="#7a6db8"/>
<circle cx="372.60" cy="59.10" r="1.65" fill="#1d5b3b"/>
<circle cx="370.40" cy="63.10" r="1.65" fill="#b00020"/>
<circle cx="374.90" cy="63.30" r="1.65" fill="#0f2e6e"/>
<circle cx="370.40" cy="82.70" r="1.65" fill="#3e0b5c"/>
<circle cx="374.90" cy="82.00" r="1.65" fill="#4e9a1e"/>
<circle cx="372.60" cy="89.90" r="1.65" fill="#c8007a"/>
<circle cx="372.60" cy="103.90" r="1.65" fill="#55a0e2"/>
<circle cx="395.10" cy="50.30" r="1.65" fill="#b00020"/>
<circle cx="390.60" cy="53.50" r="1.65" fill="#1d5b3b"/>
<circle cx="392.80" cy="59.10" r="1.65" fill="#0f2e6e"/>
<circle cx="392.80" cy="65.90" r="1.65" fill="#7a6db8"/>
<circle cx="392.80" cy="85.60" r="1.65" fill="#55a0e2"/>
<circle cx="388.50" cy="105.20" r="1.65" fill="#4e9a1e"/>
<circle cx="392.80" cy="108.90" r="1.65" fill="#3e0b5c"/>
<circle cx="397.20" cy="107.20" r="1.65" fill="#c8007a"/>
<circle cx="410.80" cy="47.20" r="1.65" fill="#b00020"/>
<circle cx="415.10" cy="48.00" r="1.65" fill="#7a6db8"/>
<circle cx="408.70" cy="60.10" r="1.65" fill="#4e9a1e"/>
<circle cx="417.40" cy="60.10" r="1.65" fill="#0f2e6e"/>
<circle cx="413.00" cy="63.30" r="1.65" fill="#c8007a"/>
<circle cx="413.00" cy="74.30" r="1.65" fill="#55a0e2"/>
<circle cx="413.00" cy="106.40" r="1.65" fill="#3e0b5c"/>
<circle cx="431.00" cy="47.60" r="1.65" fill="#7a6db8"/>
<circle cx="435.30" cy="47.00" r="1.65" fill="#b00020"/>
<circle cx="433.10" cy="77.10" r="1.65" fill="#55a0e2"/>
<circle cx="433.10" cy="110.50" r="1.65" fill="#3e0b5c"/>
<circle cx="451.20" cy="47.30" r="1.65" fill="#7a6db8"/>
<circle cx="455.50" cy="47.00" r="1.65" fill="#b00020"/>
<circle cx="453.40" cy="63.40" r="1.65" fill="#55a0e2"/>
<circle cx="453.40" cy="110.50" r="1.65" fill="#3e0b5c"/>
<circle cx="90.00" cy="174.60" r="1.65" fill="#b00020"/>
<circle cx="90.00" cy="186.10" r="1.65" fill="#1d5b3b"/>
<circle cx="90.00" cy="204.30" r="1.65" fill="#0f2e6e"/>
<circle cx="87.70" cy="224.20" r="1.65" fill="#c8007a"/>
<circle cx="92.30" cy="226.50" r="1.65" fill="#4e9a1e"/>
<circle cx="85.80" cy="238.90" r="1.65" fill="#7a6db8"/>
<circle cx="90.00" cy="239.00" r="1.65" fill="#55a0e2"/>
<circle cx="94.40" cy="239.00" r="1.65" fill="#3e0b5c"/>
<circle cx="110.20" cy="176.90" r="1.65" fill="#1d5b3b"/>
<circle cx="110.20" cy="190.20" r="1.65" fill="#0f2e6e"/>
<circle cx="110.20" cy="202.00" r="1.65" fill="#b00020"/>
<circle cx="110.20" cy="214.40" r="1.65" fill="#7a6db8"/>
<circle cx="110.20" cy="232.30" r="1.65" fill="#55a0e2"/>
<circle cx="106.00" cy="234.40" r="1.65" fill="#4e9a1e"/>
<circle cx="114.40" cy="234.60" r="1.65" fill="#c8007a"/>
<circle cx="110.20" cy="236.90" r="1.65" fill="#3e0b5c"/>
<circle cx="128.10" cy="174.40" r="1.65" fill="#7a6db8"/>
<circle cx="132.50" cy="174.40" r="1.65" fill="#b00020"/>
<circle cx="128.10" cy="180.60" r="1.65" fill="#0f2e6e"/>
<circle cx="132.50" cy="181.80" r="1.65" fill="#4e9a1e"/>
<circle cx="130.20" cy="190.40" r="1.65" fill="#c8007a"/>
<circle cx="130.20" cy="209.20" r="1.65" fill="#55a0e2"/>
<circle cx="130.20" cy="235.20" r="1.65" fill="#3e0b5c"/>
<circle cx="148.30" cy="174.50" r="1.65" fill="#7a6db8"/>
<circle cx="152.50" cy="174.25" r="1.65" fill="#b00020"/>
<circle cx="150.40" cy="192.30" r="1.65" fill="#55a0e2"/>
<circle cx="150.40" cy="238.20" r="1.65" fill="#3e0b5c"/>
<circle cx="168.40" cy="174.70" r="1.65" fill="#7a6db8"/>
<circle cx="172.70" cy="174.50" r="1.65" fill="#b00020"/>
<circle cx="170.60" cy="180.80" r="1.65" fill="#55a0e2"/>
<circle cx="170.60" cy="238.70" r="1.65" fill="#3e0b5c"/>
<circle cx="227.00" cy="239.00" r="1.65" fill="#55a0e2"/>
<circle cx="228.80" cy="238.60" r="1.65" fill="#0f2e6e"/>
<circle cx="230.40" cy="239.30" r="1.65" fill="#c8007a"/>
<circle cx="231.60" cy="239.20" r="1.65" fill="#b00020"/>
<circle cx="233.50" cy="238.30" r="1.65" fill="#7a6db8"/>
<circle cx="235.80" cy="239.00" r="1.65" fill="#4e9a1e"/>
<circle cx="253.50" cy="220.20" r="1.65" fill="#0f2e6e"/>
<circle cx="249.30" cy="222.80" r="1.65" fill="#7a6db8"/>
<circle cx="251.20" cy="228.20" r="1.65" fill="#1d5b3b"/>
<circle cx="247.00" cy="234.40" r="1.65" fill="#4e9a1e"/>
<circle cx="249.00" cy="235.50" r="1.65" fill="#55a0e2"/>
<circle cx="255.80" cy="235.20" r="1.65" fill="#c8007a"/>
<circle cx="253.90" cy="236.30" r="1.65" fill="#3e0b5c"/>
<circle cx="251.30" cy="237.50" r="1.65" fill="#b00020"/>
<circle cx="271.50" cy="176.90" r="1.65" fill="#b00020"/>
<circle cx="273.70" cy="191.00" r="1.65" fill="#0f2e6e"/>
<circle cx="269.40" cy="194.80" r="1.65" fill="#7a6db8"/>
<circle cx="271.50" cy="205.20" r="1.65" fill="#4e9a1e"/>
<circle cx="271.50" cy="217.30" r="1.65" fill="#c8007a"/>
<circle cx="271.50" cy="231.40" r="1.65" fill="#55a0e2"/>
<circle cx="271.50" cy="236.10" r="1.65" fill="#3e0b5c"/>
<circle cx="291.70" cy="177.80" r="1.65" fill="#b00020"/>
<circle cx="291.70" cy="206.90" r="1.65" fill="#7a6db8"/>
<circle cx="293.80" cy="236.30" r="1.65" fill="#55a0e2"/>
<circle cx="289.70" cy="238.70" r="1.65" fill="#3e0b5c"/>
<circle cx="311.90" cy="183.90" r="1.65" fill="#b00020"/>
<circle cx="311.90" cy="208.40" r="1.65" fill="#7a6db8"/>
<circle cx="311.90" cy="223.60" r="1.65" fill="#55a0e2"/>
<circle cx="311.90" cy="238.50" r="1.65" fill="#3e0b5c"/>
<circle cx="368.50" cy="238.90" r="1.65" fill="#4e9a1e"/>
<circle cx="370.40" cy="238.90" r="1.65" fill="#c8007a"/>
<circle cx="373.10" cy="238.90" r="1.65" fill="#b00020"/>
<circle cx="374.80" cy="237.80" r="1.65" fill="#7a6db8"/>
<circle cx="375.90" cy="238.60" r="1.65" fill="#55a0e2"/>
<circle cx="377.00" cy="238.90" r="1.65" fill="#0f2e6e"/>
<circle cx="387.90" cy="235.00" r="1.65" fill="#4e9a1e"/>
<circle cx="389.90" cy="235.90" r="1.65" fill="#c8007a"/>
<circle cx="391.20" cy="236.70" r="1.65" fill="#3e0b5c"/>
<circle cx="393.00" cy="232.60" r="1.65" fill="#7a6db8"/>
<circle cx="393.00" cy="238.90" r="1.65" fill="#b00020"/>
<circle cx="395.40" cy="236.70" r="1.65" fill="#0f2e6e"/>
<circle cx="397.50" cy="235.60" r="1.65" fill="#55a0e2"/>
<circle cx="407.90" cy="236.40" r="1.65" fill="#3e0b5c"/>
<circle cx="410.20" cy="238.40" r="1.65" fill="#55a0e2"/>
<circle cx="412.00" cy="238.60" r="1.65" fill="#c8007a"/>
<circle cx="413.50" cy="238.90" r="1.65" fill="#7a6db8"/>
<circle cx="416.10" cy="238.90" r="1.65" fill="#b00020"/>
<circle cx="417.70" cy="236.70" r="1.65" fill="#0f2e6e"/>
<circle cx="428.20" cy="238.80" r="1.65" fill="#b00020"/>
<circle cx="431.40" cy="238.80" r="1.65" fill="#7a6db8"/>
<circle cx="434.90" cy="238.50" r="1.65" fill="#55a0e2"/>
<circle cx="438.30" cy="238.80" r="1.65" fill="#3e0b5c"/>
<circle cx="448.70" cy="238.20" r="1.65" fill="#3e0b5c"/>
<circle cx="451.80" cy="238.80" r="1.65" fill="#7a6db8"/>
<circle cx="455.20" cy="238.50" r="1.65" fill="#b00020"/>
<circle cx="458.40" cy="238.20" r="1.65" fill="#55a0e2"/>
<circle cx="86.30" cy="362.00" r="1.65" fill="#7a6db8"/>
<circle cx="87.80" cy="361.50" r="1.65" fill="#1d5b3b"/>
<circle cx="89.00" cy="363.20" r="1.65" fill="#c8007a"/>
<circle cx="91.00" cy="364.70" r="1.65" fill="#4e9a1e"/>
<circle cx="92.10" cy="361.50" r="1.65" fill="#55a0e2"/>
<circle cx="93.80" cy="362.30" r="1.65" fill="#3e0b5c"/>
<circle cx="90.10" cy="375.30" r="1.65" fill="#0f2e6e"/>
<circle cx="104.80" cy="362.00" r="1.65" fill="#55a0e2"/>
<circle cx="108.30" cy="365.00" r="1.65" fill="#1d5b3b"/>
<circle cx="111.70" cy="362.70" r="1.65" fill="#7a6db8"/>
<circle cx="115.20" cy="362.00" r="1.65" fill="#3e0b5c"/>
<circle cx="110.00" cy="371.80" r="1.65" fill="#c8007a"/>
<circle cx="110.00" cy="385.20" r="1.65" fill="#0f2e6e"/>
<circle cx="125.80" cy="362.00" r="1.65" fill="#55a0e2"/>
<circle cx="130.20" cy="363.70" r="1.65" fill="#7a6db8"/>
<circle cx="134.40" cy="362.00" r="1.65" fill="#3e0b5c"/>
<circle cx="130.20" cy="380.80" r="1.65" fill="#0f2e6e"/>
<circle cx="150.40" cy="363.00" r="1.65" fill="#55a0e2"/>
<circle cx="150.40" cy="367.50" r="1.65" fill="#7a6db8"/>
<circle cx="170.40" cy="363.50" r="1.65" fill="#55a0e2"/>
<circle cx="170.40" cy="373.60" r="1.65" fill="#7a6db8"/>
<circle cx="225.80" cy="362.70" r="1.65" fill="#0f2e6e"/>
<circle cx="227.70" cy="362.70" r="1.65" fill="#55a0e2"/>
<circle cx="229.30" cy="363.20" r="1.65" fill="#3e0b5c"/>
<circle cx="230.80" cy="364.30" r="1.65" fill="#c8007a"/>
<circle cx="232.30" cy="363.80" r="1.65" fill="#4e9a1e"/>
<circle cx="233.90" cy="362.90" r="1.65" fill="#7a6db8"/>
<circle cx="235.80" cy="362.70" r="1.65" fill="#1d5b3b"/>
<circle cx="246.60" cy="362.90" r="1.65" fill="#3e0b5c"/>
<circle cx="248.70" cy="367.20" r="1.65" fill="#7a6db8"/>
<circle cx="251.00" cy="366.10" r="1.65" fill="#55a0e2"/>
<circle cx="255.00" cy="365.60" r="1.65" fill="#0f2e6e"/>
<circle cx="253.00" cy="370.80" r="1.65" fill="#c8007a"/>
<circle cx="250.80" cy="413.70" r="1.65" fill="#1d5b3b"/>
<circle cx="268.50" cy="363.30" r="1.65" fill="#3e0b5c"/>
<circle cx="274.90" cy="364.30" r="1.65" fill="#0f2e6e"/>
<circle cx="268.50" cy="369.30" r="1.65" fill="#55a0e2"/>
<circle cx="272.90" cy="368.30" r="1.65" fill="#7a6db8"/>
<circle cx="290.40" cy="377.30" r="1.65" fill="#55a0e2"/>
<circle cx="290.40" cy="384.80" r="1.65" fill="#7a6db8"/>
<circle cx="308.40" cy="415.00" r="1.65" fill="#7a6db8"/>
<circle cx="312.50" cy="411.10" r="1.65" fill="#55a0e2"/>
<circle cx="372.60" cy="364.10" r="1.65" fill="#7a6db8"/>
<circle cx="372.60" cy="374.20" r="1.65" fill="#1d5b3b"/>
<circle cx="372.60" cy="378.80" r="1.65" fill="#0f2e6e"/>
<circle cx="370.30" cy="397.80" r="1.65" fill="#3e0b5c"/>
<circle cx="374.70" cy="396.90" r="1.65" fill="#4e9a1e"/>
<circle cx="372.60" cy="404.80" r="1.65" fill="#c8007a"/>
<circle cx="372.60" cy="418.50" r="1.65" fill="#55a0e2"/>
<circle cx="392.30" cy="377.30" r="1.65" fill="#1d5b3b"/>
<circle cx="392.30" cy="399.30" r="1.65" fill="#7a6db8"/>
<circle cx="392.30" cy="419.70" r="1.65" fill="#0f2e6e"/>
<circle cx="388.30" cy="423.20" r="1.65" fill="#c8007a"/>
<circle cx="392.30" cy="426.00" r="1.65" fill="#55a0e2"/>
<circle cx="396.60" cy="425.00" r="1.65" fill="#3e0b5c"/>
<circle cx="412.40" cy="393.50" r="1.65" fill="#7a6db8"/>
<circle cx="412.40" cy="409.10" r="1.65" fill="#55a0e2"/>
<circle cx="410.20" cy="425.20" r="1.65" fill="#3e0b5c"/>
<circle cx="414.50" cy="424.30" r="1.65" fill="#0f2e6e"/>
<circle cx="432.20" cy="393.20" r="1.65" fill="#7a6db8"/>
<circle cx="432.20" cy="408.40" r="1.65" fill="#55a0e2"/>
<circle cx="452.10" cy="379.80" r="1.65" fill="#7a6db8"/>
<circle cx="452.10" cy="394.30" r="1.65" fill="#55a0e2"/>
<circle cx="89.80" cy="501.50" r="1.65" fill="#1d5b3b"/>
<circle cx="89.80" cy="519.20" r="1.65" fill="#0f2e6e"/>
<circle cx="87.50" cy="539.10" r="1.65" fill="#c8007a"/>
<circle cx="91.90" cy="541.10" r="1.65" fill="#4e9a1e"/>
<circle cx="85.50" cy="553.20" r="1.65" fill="#7a6db8"/>
<circle cx="89.80" cy="553.40" r="1.65" fill="#55a0e2"/>
<circle cx="94.10" cy="553.20" r="1.65" fill="#3e0b5c"/>
<circle cx="109.60" cy="490.90" r="1.65" fill="#1d5b3b"/>
<circle cx="109.60" cy="533.60" r="1.65" fill="#0f2e6e"/>
<circle cx="107.50" cy="546.60" r="1.65" fill="#7a6db8"/>
<circle cx="111.70" cy="548.80" r="1.65" fill="#c8007a"/>
<circle cx="107.50" cy="553.40" r="1.65" fill="#55a0e2"/>
<circle cx="111.70" cy="553.20" r="1.65" fill="#3e0b5c"/>
<circle cx="129.40" cy="533.80" r="1.65" fill="#7a6db8"/>
<circle cx="129.40" cy="538.20" r="1.65" fill="#0f2e6e"/>
<circle cx="131.60" cy="548.60" r="1.65" fill="#55a0e2"/>
<circle cx="127.30" cy="550.90" r="1.65" fill="#3e0b5c"/>
<circle cx="149.40" cy="522.90" r="1.65" fill="#7a6db8"/>
<circle cx="149.40" cy="531.10" r="1.65" fill="#55a0e2"/>
<circle cx="169.10" cy="500.30" r="1.65" fill="#55a0e2"/>
<circle cx="169.10" cy="506.90" r="1.65" fill="#7a6db8"/>
<circle cx="226.20" cy="552.10" r="1.65" fill="#7a6db8"/>
<circle cx="228.20" cy="552.90" r="1.65" fill="#4e9a1e"/>
<circle cx="230.00" cy="553.30" r="1.65" fill="#c8007a"/>
<circle cx="232.00" cy="552.90" r="1.65" fill="#3e0b5c"/>
<circle cx="233.90" cy="553.30" r="1.65" fill="#55a0e2"/>
<circle cx="235.80" cy="552.50" r="1.65" fill="#0f2e6e"/>
<circle cx="246.10" cy="549.80" r="1.65" fill="#1d5b3b"/>
<circle cx="251.00" cy="548.30" r="1.65" fill="#7a6db8"/>
<circle cx="248.70" cy="552.70" r="1.65" fill="#0f2e6e"/>
<circle cx="251.20" cy="553.60" r="1.65" fill="#3e0b5c"/>
<circle cx="253.30" cy="553.30" r="1.65" fill="#55a0e2"/>
<circle cx="255.40" cy="552.10" r="1.65" fill="#c8007a"/>
<circle cx="266.30" cy="551.00" r="1.65" fill="#55a0e2"/>
<circle cx="270.60" cy="549.00" r="1.65" fill="#7a6db8"/>
<circle cx="270.60" cy="553.30" r="1.65" fill="#0f2e6e"/>
<circle cx="275.00" cy="551.50" r="1.65" fill="#3e0b5c"/>
<circle cx="290.60" cy="536.90" r="1.65" fill="#7a6db8"/>
<circle cx="290.60" cy="547.50" r="1.65" fill="#55a0e2"/>
<circle cx="310.40" cy="507.10" r="1.65" fill="#7a6db8"/>
<circle cx="310.40" cy="550.80" r="1.65" fill="#55a0e2"/>
<circle cx="367.80" cy="552.10" r="1.65" fill="#7a6db8"/>
<circle cx="370.70" cy="553.30" r="1.65" fill="#55a0e2"/>
<circle cx="373.00" cy="552.90" r="1.65" fill="#c8007a"/>
<circle cx="375.30" cy="552.90" r="1.65" fill="#4e9a1e"/>
<circle cx="377.60" cy="552.90" r="1.65" fill="#3e0b5c"/>
<circle cx="388.80" cy="553.60" r="1.65" fill="#0f2e6e"/>
<circle cx="390.00" cy="551.50" r="1.65" fill="#c8007a"/>
<circle cx="392.60" cy="553.30" r="1.65" fill="#3e0b5c"/>
<circle cx="394.50" cy="550.10" r="1.65" fill="#7a6db8"/>
<circle cx="395.70" cy="552.90" r="1.65" fill="#55a0e2"/>
<circle cx="407.20" cy="552.50" r="1.65" fill="#3e0b5c"/>
<circle cx="411.00" cy="553.30" r="1.65" fill="#7a6db8"/>
<circle cx="414.50" cy="552.90" r="1.65" fill="#0f2e6e"/>
<circle cx="417.40" cy="551.90" r="1.65" fill="#55a0e2"/>
<circle cx="430.00" cy="553.50" r="1.65" fill="#7a6db8"/>
<circle cx="434.30" cy="553.20" r="1.65" fill="#55a0e2"/>
<circle cx="449.90" cy="553.50" r="1.65" fill="#7a6db8"/>
<circle cx="454.20" cy="553.20" r="1.65" fill="#55a0e2"/>
<circle cx="169.80" cy="288.90" r="1.8" fill="#1d5b3b"/>
<text x="175.10" y="291.90" font-size="8.8" fill="#1a1a1a" stroke="#1a1a1a" stroke-width="0.15">LPD 1</text>
<circle cx="209.30" cy="288.90" r="1.8" fill="#0f2e6e"/>
<text x="214.60" y="291.90" font-size="8.8" fill="#1a1a1a" stroke="#1a1a1a" stroke-width="0.15">LPD 3</text>
<circle cx="271.70" cy="288.90" r="1.8" fill="#4e9a1e"/>
<text x="277.00" y="291.90" font-size="8.8" fill="#1a1a1a" stroke="#1a1a1a" stroke-width="0.15">LPD 5 (PB)</text>
<circle cx="332.00" cy="288.90" r="1.8" fill="#55a0e2"/>
<text x="337.30" y="291.90" font-size="8.8" fill="#1a1a1a" stroke="#1a1a1a" stroke-width="0.15">LPD 7</text>
<circle cx="169.80" cy="302.40" r="1.8" fill="#3e0b5c"/>
<text x="175.10" y="305.40" font-size="8.8" fill="#1a1a1a" stroke="#1a1a1a" stroke-width="0.15">LPD 2</text>
<circle cx="209.30" cy="302.40" r="1.8" fill="#c8007a"/>
<text x="214.60" y="305.40" font-size="8.8" fill="#1a1a1a" stroke="#1a1a1a" stroke-width="0.15">LPD 5 (BM)</text>
<circle cx="271.70" cy="302.40" r="1.8" fill="#7a6db8"/>
<text x="277.00" y="305.40" font-size="8.8" fill="#1a1a1a" stroke="#1a1a1a" stroke-width="0.15">LPD 6</text>
<circle cx="332.00" cy="302.40" r="1.8" fill="#b00020"/>
<text x="337.30" y="305.40" font-size="8.8" fill="#1a1a1a" stroke="#1a1a1a" stroke-width="0.15">LPD 8</text>
<circle cx="169.80" cy="603.00" r="1.8" fill="#1d5b3b"/>
<text x="175.10" y="606.00" font-size="8.8" fill="#1a1a1a" stroke="#1a1a1a" stroke-width="0.15">LPD 1</text>
<circle cx="209.30" cy="603.00" r="1.8" fill="#0f2e6e"/>
<text x="214.60" y="606.00" font-size="8.8" fill="#1a1a1a" stroke="#1a1a1a" stroke-width="0.15">LPD 3</text>
<circle cx="271.70" cy="603.00" r="1.8" fill="#4e9a1e"/>
<text x="277.00" y="606.00" font-size="8.8" fill="#1a1a1a" stroke="#1a1a1a" stroke-width="0.15">LPD 5 (PB)</text>
<circle cx="332.00" cy="603.00" r="1.8" fill="#55a0e2"/>
<text x="337.30" y="606.00" font-size="8.8" fill="#1a1a1a" stroke="#1a1a1a" stroke-width="0.15">LPD 7</text>
<circle cx="169.80" cy="616.60" r="1.8" fill="#3e0b5c"/>
<text x="175.10" y="619.60" font-size="8.8" fill="#1a1a1a" stroke="#1a1a1a" stroke-width="0.15">LPD 2</text>
<circle cx="209.30" cy="616.60" r="1.8" fill="#c8007a"/>
<text x="214.60" y="619.60" font-size="8.8" fill="#1a1a1a" stroke="#1a1a1a" stroke-width="0.15">LPD 5 (BM)</text>
<circle cx="271.70" cy="616.60" r="1.8" fill="#7a6db8"/>
<text x="277.00" y="619.60" font-size="8.8" fill="#1a1a1a" stroke="#1a1a1a" stroke-width="0.15">LPD 6</text>
<text x="8.30" y="644.00" font-size="14.2" font-weight="bold" fill="#000">C</text>
<text x="193.30" y="644.00" font-size="14.2" font-weight="bold" fill="#000">D</text>
<text x="119.30" y="655.30" font-size="9.6" text-anchor="middle" fill="#1a1a1a" stroke="#1a1a1a" stroke-width="0.15">CD40L</text>
<line x1="60.60" y1="661.00" x2="178.80" y2="661.00" stroke="#1a1a1a" stroke-width="1.3"/>
<text x="363.50" y="654.00" font-size="9.6" text-anchor="middle" fill="#1a1a1a" stroke="#1a1a1a" stroke-width="0.15">R848</text>
<line x1="224.20" y1="659.90" x2="502.70" y2="659.90" stroke="#1a1a1a" stroke-width="1.3"/>
<line x1="59.60" y1="665.30" x2="59.60" y2="753.50" stroke="#1a1a1a" stroke-width="1.25"/>
<line x1="56.60" y1="750.30" x2="185.80" y2="750.30" stroke="#1a1a1a" stroke-width="1.25"/>
<line x1="56.40" y1="668.20" x2="59.60" y2="668.20" stroke="#1a1a1a" stroke-width="1.1"/>
<text x="52.40" y="671.40" font-size="8.9" text-anchor="end" fill="#1a1a1a" stroke="#1a1a1a" stroke-width="0.15">25</text>
<line x1="56.40" y1="684.62" x2="59.60" y2="684.62" stroke="#1a1a1a" stroke-width="1.1"/>
<text x="52.40" y="687.82" font-size="8.9" text-anchor="end" fill="#1a1a1a" stroke="#1a1a1a" stroke-width="0.15">20</text>
<line x1="56.40" y1="701.04" x2="59.60" y2="701.04" stroke="#1a1a1a" stroke-width="1.1"/>
<text x="52.40" y="704.24" font-size="8.9" text-anchor="end" fill="#1a1a1a" stroke="#1a1a1a" stroke-width="0.15">15</text>
<line x1="56.40" y1="717.46" x2="59.60" y2="717.46" stroke="#1a1a1a" stroke-width="1.1"/>
<text x="52.40" y="720.66" font-size="8.9" text-anchor="end" fill="#1a1a1a" stroke="#1a1a1a" stroke-width="0.15">10</text>
<line x1="56.40" y1="733.88" x2="59.60" y2="733.88" stroke="#1a1a1a" stroke-width="1.1"/>
<text x="52.40" y="737.08" font-size="8.9" text-anchor="end" fill="#1a1a1a" stroke="#1a1a1a" stroke-width="0.15">5</text>
<line x1="56.40" y1="750.30" x2="59.60" y2="750.30" stroke="#1a1a1a" stroke-width="1.1"/>
<text x="52.40" y="753.50" font-size="8.9" text-anchor="end" fill="#1a1a1a" stroke="#1a1a1a" stroke-width="0.15">0</text>
<line x1="60.10" y1="750.30" x2="60.10" y2="753.50" stroke="#1a1a1a" stroke-width="1.1"/>
<text x="60.10" y="764.90" font-size="8.9" text-anchor="middle" fill="#1a1a1a" stroke="#1a1a1a" stroke-width="0.15">0</text>
<line x1="80.45" y1="750.30" x2="80.45" y2="753.50" stroke="#1a1a1a" stroke-width="1.1"/>
<text x="80.45" y="764.90" font-size="8.9" text-anchor="middle" fill="#1a1a1a" stroke="#1a1a1a" stroke-width="0.15">5</text>
<line x1="100.80" y1="750.30" x2="100.80" y2="753.50" stroke="#1a1a1a" stroke-width="1.1"/>
<text x="100.80" y="764.90" font-size="8.9" text-anchor="middle" fill="#1a1a1a" stroke="#1a1a1a" stroke-width="0.15">10</text>
<line x1="121.15" y1="750.30" x2="121.15" y2="753.50" stroke="#1a1a1a" stroke-width="1.1"/>
<text x="121.15" y="764.90" font-size="8.9" text-anchor="middle" fill="#1a1a1a" stroke="#1a1a1a" stroke-width="0.15">15</text>
<line x1="141.50" y1="750.30" x2="141.50" y2="753.50" stroke="#1a1a1a" stroke-width="1.1"/>
<text x="141.50" y="764.90" font-size="8.9" text-anchor="middle" fill="#1a1a1a" stroke="#1a1a1a" stroke-width="0.15">20</text>
<line x1="161.85" y1="750.30" x2="161.85" y2="753.50" stroke="#1a1a1a" stroke-width="1.1"/>
<text x="161.85" y="764.90" font-size="8.9" text-anchor="middle" fill="#1a1a1a" stroke="#1a1a1a" stroke-width="0.15">25</text>
<line x1="182.20" y1="750.30" x2="182.20" y2="753.50" stroke="#1a1a1a" stroke-width="1.1"/>
<text x="182.20" y="764.90" font-size="8.9" text-anchor="middle" fill="#1a1a1a" stroke="#1a1a1a" stroke-width="0.15">30</text>
<line x1="33.90" y1="672.30" x2="33.90" y2="700.00" stroke="#111" stroke-width="1.3"/>
<polygon points="33.90,666.30 30.50,674.10 33.90,673.10 37.30,674.10" fill="#111"/>
<text font-size="10.6" font-weight="bold" textLength="39.6" lengthAdjust="spacingAndGlyphs" fill="#222" transform="translate(37.8,743.4) rotate(-90)">Fold change</text>
<text x="63.20" y="779.20" font-size="10.2" font-weight="bold" textLength="12.2" lengthAdjust="spacingAndGlyphs" fill="#222">Day</text>
<line x1="78.80" y1="776.00" x2="503.80" y2="776.00" stroke="#111" stroke-width="1.3"/>
<polygon points="509.80,776.00 501.50,772.50 503.20,776.00 501.50,779.50" fill="#111"/>
<polyline points="60.10,747.02 72.31,750.30 84.52,682.65 113.01,745.70 145.57,749.97 174.06,748.99" fill="none" stroke="#2a6a4a" stroke-width="1.0" stroke-linejoin="round"/>
<polygon points="60.10,745.42 61.50,747.02 60.10,748.62 58.70,747.02" fill="#2a6a4a"/>
<polygon points="72.31,748.70 73.71,750.30 72.31,751.90 70.91,750.30" fill="#2a6a4a"/>
<polygon points="84.52,681.05 85.92,682.65 84.52,684.25 83.12,682.65" fill="#2a6a4a"/>
<polygon points="113.01,744.10 114.41,745.70 113.01,747.30 111.61,745.70" fill="#2a6a4a"/>
<polygon points="145.57,748.37 146.97,749.97 145.57,751.57 144.17,749.97" fill="#2a6a4a"/>
<polygon points="174.06,747.39 175.46,748.99 174.06,750.59 172.66,748.99" fill="#2a6a4a"/>
<polyline points="60.10,747.02 72.31,747.67 84.52,726.33 113.01,744.88 145.57,749.97 174.06,748.66" fill="none" stroke="#1f5e3e" stroke-width="1.0" stroke-linejoin="round"/>
<rect x="58.50" y="745.52" width="3.20" height="3.00" fill="#1f5e3e"/>
<rect x="70.71" y="746.17" width="3.20" height="3.00" fill="#1f5e3e"/>
<rect x="82.92" y="724.83" width="3.20" height="3.00" fill="#1f5e3e"/>
<rect x="111.41" y="743.38" width="3.20" height="3.00" fill="#1f5e3e"/>
<rect x="143.97" y="748.47" width="3.20" height="3.00" fill="#1f5e3e"/>
<rect x="172.46" y="747.16" width="3.20" height="3.00" fill="#1f5e3e"/>
<polyline points="60.10,747.02 72.31,748.33 84.52,739.79 113.01,748.33 145.57,749.97 174.06,749.64" fill="none" stroke="#5aa52a" stroke-width="1.0" stroke-linejoin="round"/>
<circle cx="60.10" cy="747.02" r="1.5" fill="#5aa52a"/>
<circle cx="72.31" cy="748.33" r="1.5" fill="#5aa52a"/>
<circle cx="84.52" cy="739.79" r="1.5" fill="#5aa52a"/>
<circle cx="113.01" cy="748.33" r="1.5" fill="#5aa52a"/>
<circle cx="145.57" cy="749.97" r="1.5" fill="#5aa52a"/>
<circle cx="174.06" cy="749.64" r="1.5" fill="#5aa52a"/>
<polyline points="60.10,747.02 72.31,747.84 84.52,750.30 113.01,750.30 145.57,749.97 174.06,748.99" fill="none" stroke="#2a4f96" stroke-width="1.0" stroke-linejoin="round"/>
<circle cx="60.10" cy="747.02" r="1.0" fill="#2a4f96"/>
<circle cx="72.31" cy="747.84" r="1.0" fill="#2a4f96"/>
<circle cx="84.52" cy="750.30" r="1.0" fill="#2a4f96"/>
<circle cx="113.01" cy="750.30" r="1.0" fill="#2a4f96"/>
<circle cx="145.57" cy="749.97" r="1.0" fill="#2a4f96"/>
<circle cx="174.06" cy="748.99" r="1.0" fill="#2a4f96"/>
<polyline points="60.10,747.02 72.31,748.82 84.52,748.33 113.01,749.31 145.57,749.64 174.06,749.31" fill="none" stroke="#d0107f" stroke-width="1.0" stroke-linejoin="round"/>
<circle cx="60.10" cy="747.02" r="1.0" fill="#d0107f"/>
<circle cx="72.31" cy="748.82" r="1.0" fill="#d0107f"/>
<circle cx="84.52" cy="748.33" r="1.0" fill="#d0107f"/>
<circle cx="113.01" cy="749.31" r="1.0" fill="#d0107f"/>
<circle cx="145.57" cy="749.64" r="1.0" fill="#d0107f"/>
<circle cx="174.06" cy="749.31" r="1.0" fill="#d0107f"/>
<polyline points="60.10,747.02 72.31,748.00 84.52,737.49 113.01,748.99 145.57,749.97 174.06,747.67" fill="none" stroke="#3e0b5c" stroke-width="1.0" stroke-linejoin="round"/>
<polygon points="60.10,745.02 62.00,748.42 58.20,748.42" fill="#3e0b5c"/>
<polygon points="72.31,746.00 74.21,749.40 70.41,749.40" fill="#3e0b5c"/>
<polygon points="84.52,735.49 86.42,738.89 82.62,738.89" fill="#3e0b5c"/>
<polygon points="113.01,746.99 114.91,750.39 111.11,750.39" fill="#3e0b5c"/>
<polygon points="145.57,747.97 147.47,751.37 143.67,751.37" fill="#3e0b5c"/>
<polygon points="174.06,745.67 175.96,749.07 172.16,749.07" fill="#3e0b5c"/>
<polyline points="60.10,747.02 72.31,748.00 84.52,743.73 113.01,749.64 145.57,749.64 174.06,747.02" fill="none" stroke="#4a1a6e" stroke-width="1.0" stroke-linejoin="round"/>
<circle cx="60.10" cy="747.02" r="1.5" fill="#4a1a6e"/>
<circle cx="72.31" cy="748.00" r="1.5" fill="#4a1a6e"/>
<circle cx="84.52" cy="743.73" r="1.5" fill="#4a1a6e"/>
<circle cx="113.01" cy="749.64" r="1.5" fill="#4a1a6e"/>
<circle cx="145.57" cy="749.64" r="1.5" fill="#4a1a6e"/>
<circle cx="174.06" cy="747.02" r="1.5" fill="#4a1a6e"/>
<line x1="60.10" y1="747.02" x2="72.31" y2="747.67" stroke="#2a4f96" stroke-width="1.0"/>
<polygon points="60.10,745.42 61.50,747.02 60.10,748.62 58.70,747.02" fill="#2a6a4a"/>
<line x1="102.00" y1="675.40" x2="110.80" y2="675.40" stroke="#2a6a4a" stroke-width="1.0"/>
<polygon points="106.40,673.64 107.94,675.40 106.40,677.16 104.86,675.40" fill="#2a6a4a"/>
<text x="114.70" y="678.40" font-size="8.7" fill="#1a1a1a" stroke="#1a1a1a" stroke-width="0.15">LPD 1</text>
<line x1="102.00" y1="686.40" x2="110.80" y2="686.40" stroke="#4a1a6e" stroke-width="1.0"/>
<circle cx="106.40" cy="686.40" r="1.6500000000000001" fill="#4a1a6e"/>
<text x="114.70" y="689.40" font-size="8.7" fill="#1a1a1a" stroke="#1a1a1a" stroke-width="0.15">LPD 2</text>
<line x1="102.00" y1="697.40" x2="110.80" y2="697.40" stroke="#2a4f96" stroke-width="1.0"/>
<circle cx="106.40" cy="697.40" r="1.1" fill="#2a4f96"/>
<text x="114.70" y="700.40" font-size="8.7" fill="#1a1a1a" stroke="#1a1a1a" stroke-width="0.15">LPD 3</text>
<line x1="102.00" y1="708.30" x2="110.80" y2="708.30" stroke="#d0107f" stroke-width="1.0"/>
<circle cx="106.40" cy="708.30" r="1.1" fill="#d0107f"/>
<text x="114.70" y="711.30" font-size="8.7" fill="#1a1a1a" stroke="#1a1a1a" stroke-width="0.15">LPD 6</text>
<line x1="146.90" y1="675.40" x2="155.70" y2="675.40" stroke="#5aa52a" stroke-width="1.0"/>
<circle cx="151.30" cy="675.40" r="1.6500000000000001" fill="#5aa52a"/>
<text x="159.60" y="678.40" font-size="8.7" fill="#1a1a1a" stroke="#1a1a1a" stroke-width="0.15">LPD 7</text>
<line x1="146.90" y1="686.40" x2="155.70" y2="686.40" stroke="#1f5e3e" stroke-width="1.0"/>
<rect x="149.54" y="684.75" width="3.52" height="3.30" fill="#1f5e3e"/>
<text x="159.60" y="689.40" font-size="8.7" fill="#1a1a1a" stroke="#1a1a1a" stroke-width="0.15">LPD 8</text>
<line x1="146.90" y1="697.60" x2="155.70" y2="697.60" stroke="#3e0b5c" stroke-width="1.0"/>
<polygon points="151.30,695.40 153.39,699.14 149.21,699.14" fill="#3e0b5c"/>
<text x="159.60" y="700.60" font-size="8.7" fill="#1a1a1a" stroke="#1a1a1a" stroke-width="0.15">LPD 9</text>
<line x1="224.10" y1="665.30" x2="224.10" y2="753.50" stroke="#1a1a1a" stroke-width="1.25"/>
<line x1="221.10" y1="750.30" x2="350.40" y2="750.30" stroke="#1a1a1a" stroke-width="1.25"/>
<line x1="220.90" y1="668.20" x2="224.10" y2="668.20" stroke="#1a1a1a" stroke-width="1.1"/>
<text x="216.20" y="671.40" font-size="8.9" text-anchor="end" fill="#1a1a1a" stroke="#1a1a1a" stroke-width="0.15">25</text>
<line x1="220.90" y1="684.62" x2="224.10" y2="684.62" stroke="#1a1a1a" stroke-width="1.1"/>
<text x="216.20" y="687.82" font-size="8.9" text-anchor="end" fill="#1a1a1a" stroke="#1a1a1a" stroke-width="0.15">20</text>
<line x1="220.90" y1="701.04" x2="224.10" y2="701.04" stroke="#1a1a1a" stroke-width="1.1"/>
<text x="216.20" y="704.24" font-size="8.9" text-anchor="end" fill="#1a1a1a" stroke="#1a1a1a" stroke-width="0.15">15</text>
<line x1="220.90" y1="717.46" x2="224.10" y2="717.46" stroke="#1a1a1a" stroke-width="1.1"/>
<text x="216.20" y="720.66" font-size="8.9" text-anchor="end" fill="#1a1a1a" stroke="#1a1a1a" stroke-width="0.15">10</text>
<line x1="220.90" y1="733.88" x2="224.10" y2="733.88" stroke="#1a1a1a" stroke-width="1.1"/>
<text x="216.20" y="737.08" font-size="8.9" text-anchor="end" fill="#1a1a1a" stroke="#1a1a1a" stroke-width="0.15">5</text>
<line x1="220.90" y1="750.30" x2="224.10" y2="750.30" stroke="#1a1a1a" stroke-width="1.1"/>
<text x="216.20" y="753.50" font-size="8.9" text-anchor="end" fill="#1a1a1a" stroke="#1a1a1a" stroke-width="0.15">0</text>
<line x1="223.80" y1="750.30" x2="223.80" y2="753.50" stroke="#1a1a1a" stroke-width="1.1"/>
<text x="223.80" y="764.90" font-size="8.9" text-anchor="middle" fill="#1a1a1a" stroke="#1a1a1a" stroke-width="0.15">0</text>
<line x1="244.40" y1="750.30" x2="244.40" y2="753.50" stroke="#1a1a1a" stroke-width="1.1"/>
<text x="244.40" y="764.90" font-size="8.9" text-anchor="middle" fill="#1a1a1a" stroke="#1a1a1a" stroke-width="0.15">5</text>
<line x1="265.00" y1="750.30" x2="265.00" y2="753.50" stroke="#1a1a1a" stroke-width="1.1"/>
<text x="265.00" y="764.90" font-size="8.9" text-anchor="middle" fill="#1a1a1a" stroke="#1a1a1a" stroke-width="0.15">10</text>
<line x1="285.60" y1="750.30" x2="285.60" y2="753.50" stroke="#1a1a1a" stroke-width="1.1"/>
<text x="285.60" y="764.90" font-size="8.9" text-anchor="middle" fill="#1a1a1a" stroke="#1a1a1a" stroke-width="0.15">15</text>
<line x1="306.20" y1="750.30" x2="306.20" y2="753.50" stroke="#1a1a1a" stroke-width="1.1"/>
<text x="306.20" y="764.90" font-size="8.9" text-anchor="middle" fill="#1a1a1a" stroke="#1a1a1a" stroke-width="0.15">20</text>
<line x1="326.80" y1="750.30" x2="326.80" y2="753.50" stroke="#1a1a1a" stroke-width="1.1"/>
<text x="326.80" y="764.90" font-size="8.9" text-anchor="middle" fill="#1a1a1a" stroke="#1a1a1a" stroke-width="0.15">25</text>
<line x1="347.40" y1="750.30" x2="347.40" y2="753.50" stroke="#1a1a1a" stroke-width="1.1"/>
<text x="347.40" y="764.90" font-size="8.9" text-anchor="middle" fill="#1a1a1a" stroke="#1a1a1a" stroke-width="0.15">30</text>
<polyline points="223.80,747.02 236.16,750.30 248.52,686.43 277.36,750.30" fill="none" stroke="#2a6a4a" stroke-width="1.0" stroke-linejoin="round"/>
<circle cx="223.80" cy="747.02" r="0.9" fill="#2a6a4a"/>
<circle cx="236.16" cy="750.30" r="0.9" fill="#2a6a4a"/>
<circle cx="248.52" cy="686.43" r="0.9" fill="#2a6a4a"/>
<circle cx="277.36" cy="750.30" r="0.9" fill="#2a6a4a"/>
<line x1="295.60" y1="675.40" x2="303.60" y2="675.40" stroke="#2a6a4a" stroke-width="1.0"/>
<circle cx="299.50" cy="675.40" r="0.9" fill="#2a6a4a"/>
<text x="307.40" y="678.40" font-size="8.7" fill="#1a1a1a" stroke="#1a1a1a" stroke-width="0.15">LPD 1</text>
<line x1="383.10" y1="665.30" x2="383.10" y2="753.50" stroke="#1a1a1a" stroke-width="1.25"/>
<line x1="380.10" y1="750.30" x2="510.00" y2="750.30" stroke="#1a1a1a" stroke-width="1.25"/>
<line x1="379.90" y1="668.40" x2="383.10" y2="668.40" stroke="#1a1a1a" stroke-width="1.1"/>
<text x="376.20" y="671.60" font-size="8.9" text-anchor="end" fill="#1a1a1a" stroke="#1a1a1a" stroke-width="0.15">1.5</text>
<line x1="379.90" y1="695.70" x2="383.10" y2="695.70" stroke="#1a1a1a" stroke-width="1.1"/>
<text x="376.20" y="698.90" font-size="8.9" text-anchor="end" fill="#1a1a1a" stroke="#1a1a1a" stroke-width="0.15">1.0</text>
<line x1="379.90" y1="723.00" x2="383.10" y2="723.00" stroke="#1a1a1a" stroke-width="1.1"/>
<text x="376.20" y="726.20" font-size="8.9" text-anchor="end" fill="#1a1a1a" stroke="#1a1a1a" stroke-width="0.15">0.5</text>
<line x1="379.90" y1="750.30" x2="383.10" y2="750.30" stroke="#1a1a1a" stroke-width="1.1"/>
<text x="376.20" y="753.50" font-size="8.9" text-anchor="end" fill="#1a1a1a" stroke="#1a1a1a" stroke-width="0.15">0.0</text>
<line x1="383.10" y1="750.30" x2="383.10" y2="753.50" stroke="#1a1a1a" stroke-width="1.1"/>
<text x="383.10" y="764.90" font-size="8.9" text-anchor="middle" fill="#1a1a1a" stroke="#1a1a1a" stroke-width="0.15">0</text>
<line x1="403.70" y1="750.30" x2="403.70" y2="753.50" stroke="#1a1a1a" stroke-width="1.1"/>
<text x="403.70" y="764.90" font-size="8.9" text-anchor="middle" fill="#1a1a1a" stroke="#1a1a1a" stroke-width="0.15">5</text>
<line x1="424.30" y1="750.30" x2="424.30" y2="753.50" stroke="#1a1a1a" stroke-width="1.1"/>
<text x="424.30" y="764.90" font-size="8.9" text-anchor="middle" fill="#1a1a1a" stroke="#1a1a1a" stroke-width="0.15">10</text>
<line x1="444.90" y1="750.30" x2="444.90" y2="753.50" stroke="#1a1a1a" stroke-width="1.1"/>
<text x="444.90" y="764.90" font-size="8.9" text-anchor="middle" fill="#1a1a1a" stroke="#1a1a1a" stroke-width="0.15">15</text>
<line x1="465.50" y1="750.30" x2="465.50" y2="753.50" stroke="#1a1a1a" stroke-width="1.1"/>
<text x="465.50" y="764.90" font-size="8.9" text-anchor="middle" fill="#1a1a1a" stroke="#1a1a1a" stroke-width="0.15">20</text>
<line x1="486.10" y1="750.30" x2="486.10" y2="753.50" stroke="#1a1a1a" stroke-width="1.1"/>
<text x="486.10" y="764.90" font-size="8.9" text-anchor="middle" fill="#1a1a1a" stroke="#1a1a1a" stroke-width="0.15">25</text>
<line x1="506.70" y1="750.30" x2="506.70" y2="753.50" stroke="#1a1a1a" stroke-width="1.1"/>
<text x="506.70" y="764.90" font-size="8.9" text-anchor="middle" fill="#1a1a1a" stroke="#1a1a1a" stroke-width="0.15">30</text>
<polyline points="383.10,695.70 395.46,737.47 407.82,742.38 436.66,750.30 469.62,750.30 498.46,750.30" fill="none" stroke="#2a4f96" stroke-width="1.0" stroke-linejoin="round"/>
<circle cx="383.10" cy="695.70" r="0.9" fill="#2a4f96"/>
<circle cx="395.46" cy="737.47" r="0.9" fill="#2a4f96"/>
<circle cx="407.82" cy="742.38" r="0.9" fill="#2a4f96"/>
<circle cx="436.66" cy="750.30" r="0.9" fill="#2a4f96"/>
<circle cx="469.62" cy="750.30" r="0.9" fill="#2a4f96"/>
<circle cx="498.46" cy="750.30" r="0.9" fill="#2a4f96"/>
<polyline points="383.10,695.70 395.46,720.54 407.82,739.11 436.66,749.75 469.62,748.12 498.46,750.30" fill="none" stroke="#d0107f" stroke-width="1.0" stroke-linejoin="round"/>
<circle cx="383.10" cy="695.70" r="0.9" fill="#d0107f"/>
<circle cx="395.46" cy="720.54" r="0.9" fill="#d0107f"/>
<circle cx="407.82" cy="739.11" r="0.9" fill="#d0107f"/>
<circle cx="436.66" cy="749.75" r="0.9" fill="#d0107f"/>
<circle cx="469.62" cy="748.12" r="0.9" fill="#d0107f"/>
<circle cx="498.46" cy="750.30" r="0.9" fill="#d0107f"/>
<polyline points="383.10,697.34 395.46,721.91 407.82,732.83 436.66,744.29 469.62,736.92" fill="none" stroke="#5aa52a" stroke-width="1.0" stroke-linejoin="round"/>
<circle cx="383.10" cy="697.34" r="1.2000000000000002" fill="#5aa52a"/>
<circle cx="395.46" cy="721.91" r="1.2000000000000002" fill="#5aa52a"/>
<circle cx="407.82" cy="732.83" r="1.2000000000000002" fill="#5aa52a"/>
<circle cx="436.66" cy="744.29" r="1.2000000000000002" fill="#5aa52a"/>
<circle cx="469.62" cy="736.92" r="1.2000000000000002" fill="#5aa52a"/>
<polyline points="383.10,695.70 395.46,709.90 407.82,706.07 436.66,749.21 469.62,749.21 498.46,748.66" fill="none" stroke="#4a1a6e" stroke-width="1.0" stroke-linejoin="round"/>
<circle cx="383.10" cy="695.70" r="1.2000000000000002" fill="#4a1a6e"/>
<circle cx="395.46" cy="709.90" r="1.2000000000000002" fill="#4a1a6e"/>
<circle cx="407.82" cy="706.07" r="1.2000000000000002" fill="#4a1a6e"/>
<circle cx="436.66" cy="749.21" r="1.2000000000000002" fill="#4a1a6e"/>
<circle cx="469.62" cy="749.21" r="1.2000000000000002" fill="#4a1a6e"/>
<circle cx="498.46" cy="748.66" r="1.2000000000000002" fill="#4a1a6e"/>
<line x1="447.70" y1="675.40" x2="455.70" y2="675.40" stroke="#4a1a6e" stroke-width="1.0"/>
<circle cx="451.70" cy="675.40" r="1.5750000000000002" fill="#4a1a6e"/>
<text x="460.00" y="678.40" font-size="8.7" fill="#1a1a1a" stroke="#1a1a1a" stroke-width="0.15">LPD 2</text>
<line x1="447.70" y1="686.30" x2="455.70" y2="686.30" stroke="#2a4f96" stroke-width="1.0"/>
<circle cx="451.70" cy="686.30" r="1.05" fill="#2a4f96"/>
<text x="460.00" y="689.30" font-size="8.7" fill="#1a1a1a" stroke="#1a1a1a" stroke-width="0.15">LPD 3</text>
<line x1="447.70" y1="697.10" x2="455.70" y2="697.10" stroke="#d0107f" stroke-width="1.0"/>
<circle cx="451.70" cy="697.10" r="1.05" fill="#d0107f"/>
<text x="460.00" y="700.10" font-size="8.7" fill="#1a1a1a" stroke="#1a1a1a" stroke-width="0.15">LPD 6</text>
<line x1="447.70" y1="708.10" x2="455.70" y2="708.10" stroke="#5aa52a" stroke-width="1.0"/>
<circle cx="451.70" cy="708.10" r="1.5750000000000002" fill="#5aa52a"/>
<text x="460.00" y="711.10" font-size="8.7" fill="#1a1a1a" stroke="#1a1a1a" stroke-width="0.15">LPD 7</text>
</svg>
</body></html>
